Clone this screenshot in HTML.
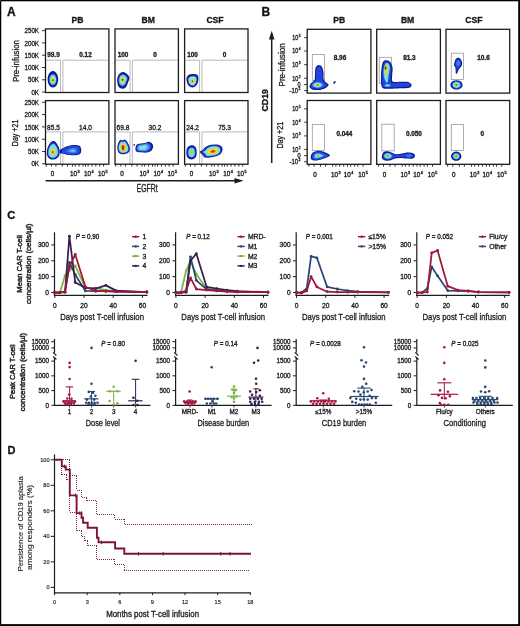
<!DOCTYPE html>
<html><head><meta charset="utf-8"><title>Figure</title>
<style>
html,body{margin:0;padding:0;background:#fff;}
body{width:520px;height:626px;overflow:hidden;}
svg{display:block;will-change:transform;}
svg text{font-family:"Liberation Sans", sans-serif;stroke:#222;stroke-width:0.32px;}
</style></head>
<body>
<svg width="520" height="626" viewBox="0 0 520 626" fill="#222">
<defs><filter id="bl" x="-20%" y="-20%" width="140%" height="140%"><feGaussianBlur stdDeviation="0.3"/></filter>
</defs>
<g>
<rect x="0" y="0" width="520" height="626" fill="#fff"/>
<text x="7.00" y="15.90" font-size="12" font-weight="bold" fill="#111">A</text>
<text x="261.60" y="15.90" font-size="12" font-weight="bold" fill="#111">B</text>
<text x="7.30" y="219.10" font-size="11.2" font-weight="bold" fill="#111">C</text>
<text x="7.50" y="454.30" font-size="11" font-weight="bold" fill="#111">D</text>
<text x="77.40" y="23.00" font-size="8.6" text-anchor="middle" font-weight="bold" fill="#111">PB</text>
<text x="148.20" y="23.00" font-size="8.6" text-anchor="middle" font-weight="bold" fill="#111">BM</text>
<text x="215.00" y="23.00" font-size="8.6" text-anchor="middle" font-weight="bold" fill="#111">CSF</text>
<text x="19.00" y="61.00" font-size="9.3" text-anchor="middle" textLength="42.00" lengthAdjust="spacingAndGlyphs" transform="rotate(-90 19.00 61.00)">Pre-infusion</text>
<text x="17.90" y="132.90" font-size="9.3" text-anchor="middle" textLength="26.50" lengthAdjust="spacingAndGlyphs" transform="rotate(-90 17.90 132.90)">Day +21</text>
<line x1="42.00" y1="92.10" x2="45.50" y2="92.10" stroke="#1c1c1c" stroke-width="0.9"/>
<text x="39.00" y="94.70" font-size="7.0" text-anchor="end" textLength="7.58" lengthAdjust="spacingAndGlyphs">0K</text>
<line x1="42.00" y1="79.80" x2="45.50" y2="79.80" stroke="#1c1c1c" stroke-width="0.9"/>
<text x="39.00" y="82.40" font-size="7.0" text-anchor="end" textLength="11.03" lengthAdjust="spacingAndGlyphs">50K</text>
<line x1="42.00" y1="67.50" x2="45.50" y2="67.50" stroke="#1c1c1c" stroke-width="0.9"/>
<text x="39.00" y="70.10" font-size="7.0" text-anchor="end" textLength="14.48" lengthAdjust="spacingAndGlyphs">100K</text>
<line x1="42.00" y1="55.20" x2="45.50" y2="55.20" stroke="#1c1c1c" stroke-width="0.9"/>
<text x="39.00" y="57.80" font-size="7.0" text-anchor="end" textLength="14.48" lengthAdjust="spacingAndGlyphs">150K</text>
<line x1="42.00" y1="42.90" x2="45.50" y2="42.90" stroke="#1c1c1c" stroke-width="0.9"/>
<text x="39.00" y="45.50" font-size="7.0" text-anchor="end" textLength="14.48" lengthAdjust="spacingAndGlyphs">200K</text>
<line x1="42.00" y1="30.60" x2="45.50" y2="30.60" stroke="#1c1c1c" stroke-width="0.9"/>
<text x="39.00" y="33.20" font-size="7.0" text-anchor="end" textLength="14.48" lengthAdjust="spacingAndGlyphs">250K</text>
<line x1="42.00" y1="163.80" x2="45.50" y2="163.80" stroke="#1c1c1c" stroke-width="0.9"/>
<text x="39.00" y="166.40" font-size="7.0" text-anchor="end" textLength="7.58" lengthAdjust="spacingAndGlyphs">0K</text>
<line x1="42.00" y1="151.50" x2="45.50" y2="151.50" stroke="#1c1c1c" stroke-width="0.9"/>
<text x="39.00" y="154.10" font-size="7.0" text-anchor="end" textLength="11.03" lengthAdjust="spacingAndGlyphs">50K</text>
<line x1="42.00" y1="139.20" x2="45.50" y2="139.20" stroke="#1c1c1c" stroke-width="0.9"/>
<text x="39.00" y="141.80" font-size="7.0" text-anchor="end" textLength="14.48" lengthAdjust="spacingAndGlyphs">100K</text>
<line x1="42.00" y1="126.90" x2="45.50" y2="126.90" stroke="#1c1c1c" stroke-width="0.9"/>
<text x="39.00" y="129.50" font-size="7.0" text-anchor="end" textLength="14.48" lengthAdjust="spacingAndGlyphs">150K</text>
<line x1="42.00" y1="114.60" x2="45.50" y2="114.60" stroke="#1c1c1c" stroke-width="0.9"/>
<text x="39.00" y="117.20" font-size="7.0" text-anchor="end" textLength="14.48" lengthAdjust="spacingAndGlyphs">200K</text>
<line x1="42.00" y1="102.30" x2="45.50" y2="102.30" stroke="#1c1c1c" stroke-width="0.9"/>
<text x="39.00" y="104.90" font-size="7.0" text-anchor="end" textLength="14.48" lengthAdjust="spacingAndGlyphs">250K</text>
<path d="M46.10,60.20 H60.50 V92.20" stroke="#a8a8a8" stroke-width="0.8" fill="none"/>
<path d="M62.90,92.20 V60.20 H108.30" stroke="#a8a8a8" stroke-width="0.8" fill="none"/>
<text x="53.50" y="56.90" font-size="6.4" text-anchor="middle" font-weight="bold">99.9</text>
<text x="85.50" y="56.90" font-size="6.4" text-anchor="middle" font-weight="bold">0.12</text>
<path d="M115.60,60.20 H130.00 V92.20" stroke="#a8a8a8" stroke-width="0.8" fill="none"/>
<path d="M132.40,92.20 V60.20 H177.80" stroke="#a8a8a8" stroke-width="0.8" fill="none"/>
<text x="123.00" y="56.90" font-size="6.4" text-anchor="middle" font-weight="bold">100</text>
<text x="155.00" y="56.90" font-size="6.4" text-anchor="middle" font-weight="bold">0</text>
<path d="M185.20,60.20 H199.60 V92.20" stroke="#a8a8a8" stroke-width="0.8" fill="none"/>
<path d="M202.00,92.20 V60.20 H247.40" stroke="#a8a8a8" stroke-width="0.8" fill="none"/>
<text x="192.60" y="56.90" font-size="6.4" text-anchor="middle" font-weight="bold">100</text>
<text x="224.60" y="56.90" font-size="6.4" text-anchor="middle" font-weight="bold">0</text>
<path d="M46.10,131.90 H60.50 V163.90" stroke="#a8a8a8" stroke-width="0.8" fill="none"/>
<path d="M62.90,163.90 V131.90 H108.30" stroke="#a8a8a8" stroke-width="0.8" fill="none"/>
<text x="53.50" y="129.80" font-size="6.9" text-anchor="middle" textLength="12.84" lengthAdjust="spacingAndGlyphs">85.5</text>
<text x="85.50" y="129.80" font-size="6.9" text-anchor="middle" textLength="12.84" lengthAdjust="spacingAndGlyphs">14.0</text>
<path d="M115.60,131.90 H130.00 V163.90" stroke="#a8a8a8" stroke-width="0.8" fill="none"/>
<path d="M132.40,163.90 V131.90 H177.80" stroke="#a8a8a8" stroke-width="0.8" fill="none"/>
<text x="123.00" y="129.80" font-size="6.9" text-anchor="middle" textLength="12.84" lengthAdjust="spacingAndGlyphs">69.8</text>
<text x="155.00" y="129.80" font-size="6.9" text-anchor="middle" textLength="12.84" lengthAdjust="spacingAndGlyphs">30.2</text>
<path d="M185.20,131.90 H199.60 V163.90" stroke="#a8a8a8" stroke-width="0.8" fill="none"/>
<path d="M202.00,163.90 V131.90 H247.40" stroke="#a8a8a8" stroke-width="0.8" fill="none"/>
<text x="192.60" y="129.80" font-size="6.9" text-anchor="middle" textLength="12.84" lengthAdjust="spacingAndGlyphs">24.2</text>
<text x="224.60" y="129.80" font-size="6.9" text-anchor="middle" textLength="12.84" lengthAdjust="spacingAndGlyphs">75.3</text>
<line x1="46.20" y1="164.20" x2="46.20" y2="166.60" stroke="#1c1c1c" stroke-width="0.9"/>
<line x1="51.40" y1="164.20" x2="51.40" y2="166.60" stroke="#1c1c1c" stroke-width="0.9"/>
<line x1="55.90" y1="164.20" x2="55.90" y2="166.60" stroke="#1c1c1c" stroke-width="0.9"/>
<line x1="62.30" y1="164.20" x2="62.30" y2="166.60" stroke="#1c1c1c" stroke-width="0.9"/>
<line x1="67.50" y1="164.20" x2="67.50" y2="166.60" stroke="#1c1c1c" stroke-width="0.9"/>
<line x1="72.60" y1="164.20" x2="72.60" y2="166.60" stroke="#1c1c1c" stroke-width="0.9"/>
<line x1="75.20" y1="164.20" x2="75.20" y2="166.60" stroke="#1c1c1c" stroke-width="0.9"/>
<line x1="79.10" y1="164.20" x2="79.10" y2="166.60" stroke="#1c1c1c" stroke-width="0.9"/>
<line x1="83.00" y1="164.20" x2="83.00" y2="166.60" stroke="#1c1c1c" stroke-width="0.9"/>
<line x1="85.50" y1="164.20" x2="85.50" y2="166.60" stroke="#1c1c1c" stroke-width="0.9"/>
<line x1="88.10" y1="164.20" x2="88.10" y2="166.60" stroke="#1c1c1c" stroke-width="0.9"/>
<line x1="92.00" y1="164.20" x2="92.00" y2="166.60" stroke="#1c1c1c" stroke-width="0.9"/>
<line x1="95.80" y1="164.20" x2="95.80" y2="166.60" stroke="#1c1c1c" stroke-width="0.9"/>
<line x1="99.70" y1="164.20" x2="99.70" y2="166.60" stroke="#1c1c1c" stroke-width="0.9"/>
<line x1="103.60" y1="164.20" x2="103.60" y2="166.60" stroke="#1c1c1c" stroke-width="0.9"/>
<text x="52.50" y="176.30" font-size="6.3" text-anchor="middle">0</text>
<text x="74.80" y="176.30" font-size="6.3" text-anchor="middle">10<tspan font-size="3.78" dx="0.50" dy="-2.83">3</tspan></text>
<text x="88.90" y="176.30" font-size="6.3" text-anchor="middle">10<tspan font-size="3.78" dx="0.50" dy="-2.83">4</tspan></text>
<text x="102.70" y="176.30" font-size="6.3" text-anchor="middle">10<tspan font-size="3.78" dx="0.50" dy="-2.83">5</tspan></text>
<line x1="115.70" y1="164.20" x2="115.70" y2="166.60" stroke="#1c1c1c" stroke-width="0.9"/>
<line x1="120.90" y1="164.20" x2="120.90" y2="166.60" stroke="#1c1c1c" stroke-width="0.9"/>
<line x1="125.40" y1="164.20" x2="125.40" y2="166.60" stroke="#1c1c1c" stroke-width="0.9"/>
<line x1="131.80" y1="164.20" x2="131.80" y2="166.60" stroke="#1c1c1c" stroke-width="0.9"/>
<line x1="137.00" y1="164.20" x2="137.00" y2="166.60" stroke="#1c1c1c" stroke-width="0.9"/>
<line x1="142.10" y1="164.20" x2="142.10" y2="166.60" stroke="#1c1c1c" stroke-width="0.9"/>
<line x1="144.70" y1="164.20" x2="144.70" y2="166.60" stroke="#1c1c1c" stroke-width="0.9"/>
<line x1="148.60" y1="164.20" x2="148.60" y2="166.60" stroke="#1c1c1c" stroke-width="0.9"/>
<line x1="152.50" y1="164.20" x2="152.50" y2="166.60" stroke="#1c1c1c" stroke-width="0.9"/>
<line x1="155.00" y1="164.20" x2="155.00" y2="166.60" stroke="#1c1c1c" stroke-width="0.9"/>
<line x1="157.60" y1="164.20" x2="157.60" y2="166.60" stroke="#1c1c1c" stroke-width="0.9"/>
<line x1="161.50" y1="164.20" x2="161.50" y2="166.60" stroke="#1c1c1c" stroke-width="0.9"/>
<line x1="165.30" y1="164.20" x2="165.30" y2="166.60" stroke="#1c1c1c" stroke-width="0.9"/>
<line x1="169.20" y1="164.20" x2="169.20" y2="166.60" stroke="#1c1c1c" stroke-width="0.9"/>
<line x1="173.10" y1="164.20" x2="173.10" y2="166.60" stroke="#1c1c1c" stroke-width="0.9"/>
<text x="122.00" y="176.30" font-size="6.3" text-anchor="middle">0</text>
<text x="144.30" y="176.30" font-size="6.3" text-anchor="middle">10<tspan font-size="3.78" dx="0.50" dy="-2.83">3</tspan></text>
<text x="158.40" y="176.30" font-size="6.3" text-anchor="middle">10<tspan font-size="3.78" dx="0.50" dy="-2.83">4</tspan></text>
<text x="172.20" y="176.30" font-size="6.3" text-anchor="middle">10<tspan font-size="3.78" dx="0.50" dy="-2.83">5</tspan></text>
<line x1="185.30" y1="164.20" x2="185.30" y2="166.60" stroke="#1c1c1c" stroke-width="0.9"/>
<line x1="190.50" y1="164.20" x2="190.50" y2="166.60" stroke="#1c1c1c" stroke-width="0.9"/>
<line x1="195.00" y1="164.20" x2="195.00" y2="166.60" stroke="#1c1c1c" stroke-width="0.9"/>
<line x1="201.40" y1="164.20" x2="201.40" y2="166.60" stroke="#1c1c1c" stroke-width="0.9"/>
<line x1="206.60" y1="164.20" x2="206.60" y2="166.60" stroke="#1c1c1c" stroke-width="0.9"/>
<line x1="211.70" y1="164.20" x2="211.70" y2="166.60" stroke="#1c1c1c" stroke-width="0.9"/>
<line x1="214.30" y1="164.20" x2="214.30" y2="166.60" stroke="#1c1c1c" stroke-width="0.9"/>
<line x1="218.20" y1="164.20" x2="218.20" y2="166.60" stroke="#1c1c1c" stroke-width="0.9"/>
<line x1="222.10" y1="164.20" x2="222.10" y2="166.60" stroke="#1c1c1c" stroke-width="0.9"/>
<line x1="224.60" y1="164.20" x2="224.60" y2="166.60" stroke="#1c1c1c" stroke-width="0.9"/>
<line x1="227.20" y1="164.20" x2="227.20" y2="166.60" stroke="#1c1c1c" stroke-width="0.9"/>
<line x1="231.10" y1="164.20" x2="231.10" y2="166.60" stroke="#1c1c1c" stroke-width="0.9"/>
<line x1="234.90" y1="164.20" x2="234.90" y2="166.60" stroke="#1c1c1c" stroke-width="0.9"/>
<line x1="238.80" y1="164.20" x2="238.80" y2="166.60" stroke="#1c1c1c" stroke-width="0.9"/>
<line x1="242.70" y1="164.20" x2="242.70" y2="166.60" stroke="#1c1c1c" stroke-width="0.9"/>
<text x="191.60" y="176.30" font-size="6.3" text-anchor="middle">0</text>
<text x="213.90" y="176.30" font-size="6.3" text-anchor="middle">10<tspan font-size="3.78" dx="0.50" dy="-2.83">3</tspan></text>
<text x="228.00" y="176.30" font-size="6.3" text-anchor="middle">10<tspan font-size="3.78" dx="0.50" dy="-2.83">4</tspan></text>
<text x="241.80" y="176.30" font-size="6.3" text-anchor="middle">10<tspan font-size="3.78" dx="0.50" dy="-2.83">5</tspan></text>
<g filter="url(#bl)">
<path d="M58.20,79.30 C58.20,80.67 57.93,82.22 57.49,83.40 C57.05,84.58 56.31,85.72 55.55,86.40 C54.79,87.08 53.78,87.50 52.90,87.50 C52.02,87.50 51.01,87.08 50.25,86.40 C49.49,85.72 48.75,84.58 48.31,83.40 C47.87,82.22 47.60,80.67 47.60,79.30 C47.60,77.93 47.87,76.38 48.31,75.20 C48.75,74.02 49.49,72.88 50.25,72.20 C51.01,71.52 52.02,71.10 52.90,71.10 C53.78,71.10 54.79,71.52 55.55,72.20 C56.31,72.88 57.05,74.02 57.49,75.20 C57.93,76.38 58.20,77.93 58.20,79.30 Z" fill="#0e1b8c"/>
<path d="M58.20,79.30 C58.20,80.67 57.93,82.22 57.49,83.40 C57.05,84.58 56.31,85.72 55.55,86.40 C54.79,87.08 53.78,87.50 52.90,87.50 C52.02,87.50 51.01,87.08 50.25,86.40 C49.49,85.72 48.75,84.58 48.31,83.40 C47.87,82.22 47.60,80.67 47.60,79.30 C47.60,77.93 47.87,76.38 48.31,75.20 C48.75,74.02 49.49,72.88 50.25,72.20 C51.01,71.52 52.02,71.10 52.90,71.10 C53.78,71.10 54.79,71.52 55.55,72.20 C56.31,72.88 57.05,74.02 57.49,75.20 C57.93,76.38 58.20,77.93 58.20,79.30 Z" fill="#2145df" transform="translate(52.90 80.40) scale(0.75) translate(-52.90 -80.40)"/>
<path d="M58.20,79.30 C58.20,80.67 57.93,82.22 57.49,83.40 C57.05,84.58 56.31,85.72 55.55,86.40 C54.79,87.08 53.78,87.50 52.90,87.50 C52.02,87.50 51.01,87.08 50.25,86.40 C49.49,85.72 48.75,84.58 48.31,83.40 C47.87,82.22 47.60,80.67 47.60,79.30 C47.60,77.93 47.87,76.38 48.31,75.20 C48.75,74.02 49.49,72.88 50.25,72.20 C51.01,71.52 52.02,71.10 52.90,71.10 C53.78,71.10 54.79,71.52 55.55,72.20 C56.31,72.88 57.05,74.02 57.49,75.20 C57.93,76.38 58.20,77.93 58.20,79.30 Z" fill="#74d8f0" transform="translate(52.90 80.40) scale(0.62) translate(-52.90 -80.40)"/>
<path d="M58.20,79.30 C58.20,80.67 57.93,82.22 57.49,83.40 C57.05,84.58 56.31,85.72 55.55,86.40 C54.79,87.08 53.78,87.50 52.90,87.50 C52.02,87.50 51.01,87.08 50.25,86.40 C49.49,85.72 48.75,84.58 48.31,83.40 C47.87,82.22 47.60,80.67 47.60,79.30 C47.60,77.93 47.87,76.38 48.31,75.20 C48.75,74.02 49.49,72.88 50.25,72.20 C51.01,71.52 52.02,71.10 52.90,71.10 C53.78,71.10 54.79,71.52 55.55,72.20 C56.31,72.88 57.05,74.02 57.49,75.20 C57.93,76.38 58.20,77.93 58.20,79.30 Z" fill="#a6e276" transform="translate(52.90 80.40) scale(0.45) translate(-52.90 -80.40)"/>
<path d="M58.20,79.30 C58.20,80.67 57.93,82.22 57.49,83.40 C57.05,84.58 56.31,85.72 55.55,86.40 C54.79,87.08 53.78,87.50 52.90,87.50 C52.02,87.50 51.01,87.08 50.25,86.40 C49.49,85.72 48.75,84.58 48.31,83.40 C47.87,82.22 47.60,80.67 47.60,79.30 C47.60,77.93 47.87,76.38 48.31,75.20 C48.75,74.02 49.49,72.88 50.25,72.20 C51.01,71.52 52.02,71.10 52.90,71.10 C53.78,71.10 54.79,71.52 55.55,72.20 C56.31,72.88 57.05,74.02 57.49,75.20 C57.93,76.38 58.20,77.93 58.20,79.30 Z" fill="#e8e23e" transform="translate(52.90 80.40) scale(0.28) translate(-52.90 -80.40)"/>
<path d="M58.20,79.30 C58.20,80.67 57.93,82.22 57.49,83.40 C57.05,84.58 56.31,85.72 55.55,86.40 C54.79,87.08 53.78,87.50 52.90,87.50 C52.02,87.50 51.01,87.08 50.25,86.40 C49.49,85.72 48.75,84.58 48.31,83.40 C47.87,82.22 47.60,80.67 47.60,79.30 C47.60,77.93 47.87,76.38 48.31,75.20 C48.75,74.02 49.49,72.88 50.25,72.20 C51.01,71.52 52.02,71.10 52.90,71.10 C53.78,71.10 54.79,71.52 55.55,72.20 C56.31,72.88 57.05,74.02 57.49,75.20 C57.93,76.38 58.20,77.93 58.20,79.30 Z" fill="#6e3c10" transform="translate(52.90 80.40) scale(0.14) translate(-52.90 -80.40)"/>
</g>
<g filter="url(#bl)">
<path d="M117.20,80.00 C117.20,78.08 117.70,76.30 118.50,75.00 C119.30,73.70 120.75,72.48 122.00,72.20 C123.25,71.92 124.77,72.42 126.00,73.30 C127.23,74.18 129.07,75.97 129.40,77.50 C129.73,79.03 128.57,80.92 128.00,82.50 C127.43,84.08 126.92,85.95 126.00,87.00 C125.08,88.05 123.75,88.88 122.50,88.80 C121.25,88.72 119.38,87.97 118.50,86.50 C117.62,85.03 117.20,81.92 117.20,80.00 Z" fill="#0e1b8c"/>
<path d="M117.20,80.00 C117.20,78.08 117.70,76.30 118.50,75.00 C119.30,73.70 120.75,72.48 122.00,72.20 C123.25,71.92 124.77,72.42 126.00,73.30 C127.23,74.18 129.07,75.97 129.40,77.50 C129.73,79.03 128.57,80.92 128.00,82.50 C127.43,84.08 126.92,85.95 126.00,87.00 C125.08,88.05 123.75,88.88 122.50,88.80 C121.25,88.72 119.38,87.97 118.50,86.50 C117.62,85.03 117.20,81.92 117.20,80.00 Z" fill="#2145df" transform="translate(122.50 79.70) scale(0.78) translate(-122.50 -79.70)"/>
<path d="M117.20,80.00 C117.20,78.08 117.70,76.30 118.50,75.00 C119.30,73.70 120.75,72.48 122.00,72.20 C123.25,71.92 124.77,72.42 126.00,73.30 C127.23,74.18 129.07,75.97 129.40,77.50 C129.73,79.03 128.57,80.92 128.00,82.50 C127.43,84.08 126.92,85.95 126.00,87.00 C125.08,88.05 123.75,88.88 122.50,88.80 C121.25,88.72 119.38,87.97 118.50,86.50 C117.62,85.03 117.20,81.92 117.20,80.00 Z" fill="#74d8f0" transform="translate(122.50 79.70) scale(0.64) translate(-122.50 -79.70)"/>
<path d="M117.20,80.00 C117.20,78.08 117.70,76.30 118.50,75.00 C119.30,73.70 120.75,72.48 122.00,72.20 C123.25,71.92 124.77,72.42 126.00,73.30 C127.23,74.18 129.07,75.97 129.40,77.50 C129.73,79.03 128.57,80.92 128.00,82.50 C127.43,84.08 126.92,85.95 126.00,87.00 C125.08,88.05 123.75,88.88 122.50,88.80 C121.25,88.72 119.38,87.97 118.50,86.50 C117.62,85.03 117.20,81.92 117.20,80.00 Z" fill="#a6e276" transform="translate(122.50 79.70) scale(0.47) translate(-122.50 -79.70)"/>
<path d="M117.20,80.00 C117.20,78.08 117.70,76.30 118.50,75.00 C119.30,73.70 120.75,72.48 122.00,72.20 C123.25,71.92 124.77,72.42 126.00,73.30 C127.23,74.18 129.07,75.97 129.40,77.50 C129.73,79.03 128.57,80.92 128.00,82.50 C127.43,84.08 126.92,85.95 126.00,87.00 C125.08,88.05 123.75,88.88 122.50,88.80 C121.25,88.72 119.38,87.97 118.50,86.50 C117.62,85.03 117.20,81.92 117.20,80.00 Z" fill="#e8e23e" transform="translate(122.50 79.70) scale(0.3) translate(-122.50 -79.70)"/>
<path d="M117.20,80.00 C117.20,78.08 117.70,76.30 118.50,75.00 C119.30,73.70 120.75,72.48 122.00,72.20 C123.25,71.92 124.77,72.42 126.00,73.30 C127.23,74.18 129.07,75.97 129.40,77.50 C129.73,79.03 128.57,80.92 128.00,82.50 C127.43,84.08 126.92,85.95 126.00,87.00 C125.08,88.05 123.75,88.88 122.50,88.80 C121.25,88.72 119.38,87.97 118.50,86.50 C117.62,85.03 117.20,81.92 117.20,80.00 Z" fill="#6e3c10" transform="translate(122.50 79.70) scale(0.15) translate(-122.50 -79.70)"/>
</g>
<g filter="url(#bl)">
<path d="M186.40,79.00 C186.40,77.25 187.40,75.85 188.50,75.00 C189.60,74.15 191.50,73.90 193.00,73.90 C194.50,73.90 196.60,74.07 197.50,75.00 C198.40,75.93 198.48,77.92 198.40,79.50 C198.32,81.08 197.90,83.18 197.00,84.50 C196.10,85.82 194.42,87.23 193.00,87.40 C191.58,87.57 189.60,86.90 188.50,85.50 C187.40,84.10 186.40,80.75 186.40,79.00 Z" fill="#0e1b8c"/>
<path d="M186.40,79.00 C186.40,77.25 187.40,75.85 188.50,75.00 C189.60,74.15 191.50,73.90 193.00,73.90 C194.50,73.90 196.60,74.07 197.50,75.00 C198.40,75.93 198.48,77.92 198.40,79.50 C198.32,81.08 197.90,83.18 197.00,84.50 C196.10,85.82 194.42,87.23 193.00,87.40 C191.58,87.57 189.60,86.90 188.50,85.50 C187.40,84.10 186.40,80.75 186.40,79.00 Z" fill="#2145df" transform="translate(192.40 81.30) scale(0.8) translate(-192.40 -81.30)"/>
<path d="M186.40,79.00 C186.40,77.25 187.40,75.85 188.50,75.00 C189.60,74.15 191.50,73.90 193.00,73.90 C194.50,73.90 196.60,74.07 197.50,75.00 C198.40,75.93 198.48,77.92 198.40,79.50 C198.32,81.08 197.90,83.18 197.00,84.50 C196.10,85.82 194.42,87.23 193.00,87.40 C191.58,87.57 189.60,86.90 188.50,85.50 C187.40,84.10 186.40,80.75 186.40,79.00 Z" fill="#9fdcf6" transform="translate(192.40 81.30) scale(0.66) translate(-192.40 -81.30)"/>
<path d="M186.40,79.00 C186.40,77.25 187.40,75.85 188.50,75.00 C189.60,74.15 191.50,73.90 193.00,73.90 C194.50,73.90 196.60,74.07 197.50,75.00 C198.40,75.93 198.48,77.92 198.40,79.50 C198.32,81.08 197.90,83.18 197.00,84.50 C196.10,85.82 194.42,87.23 193.00,87.40 C191.58,87.57 189.60,86.90 188.50,85.50 C187.40,84.10 186.40,80.75 186.40,79.00 Z" fill="#a6e276" transform="translate(192.40 81.30) scale(0.45) translate(-192.40 -81.30)"/>
<path d="M186.40,79.00 C186.40,77.25 187.40,75.85 188.50,75.00 C189.60,74.15 191.50,73.90 193.00,73.90 C194.50,73.90 196.60,74.07 197.50,75.00 C198.40,75.93 198.48,77.92 198.40,79.50 C198.32,81.08 197.90,83.18 197.00,84.50 C196.10,85.82 194.42,87.23 193.00,87.40 C191.58,87.57 189.60,86.90 188.50,85.50 C187.40,84.10 186.40,80.75 186.40,79.00 Z" fill="#cfe640" transform="translate(192.40 81.30) scale(0.28) translate(-192.40 -81.30)"/>
<path d="M186.40,79.00 C186.40,77.25 187.40,75.85 188.50,75.00 C189.60,74.15 191.50,73.90 193.00,73.90 C194.50,73.90 196.60,74.07 197.50,75.00 C198.40,75.93 198.48,77.92 198.40,79.50 C198.32,81.08 197.90,83.18 197.00,84.50 C196.10,85.82 194.42,87.23 193.00,87.40 C191.58,87.57 189.60,86.90 188.50,85.50 C187.40,84.10 186.40,80.75 186.40,79.00 Z" fill="#6e3c10" transform="translate(192.40 81.30) scale(0.12) translate(-192.40 -81.30)"/>
</g>
<g filter="url(#bl)">
<path d="M60.20,150.00 C60.67,149.18 61.70,148.97 63.00,148.30 C64.30,147.63 66.17,146.57 68.00,146.00 C69.83,145.43 72.08,144.93 74.00,144.90 C75.92,144.87 78.30,144.98 79.50,145.80 C80.70,146.62 81.12,148.43 81.20,149.80 C81.28,151.17 81.20,153.08 80.00,154.00 C78.80,154.92 76.17,155.17 74.00,155.30 C71.83,155.43 68.83,155.08 67.00,154.80 C65.17,154.52 64.13,153.87 63.00,153.60 C61.87,153.33 60.67,153.80 60.20,153.20 C59.73,152.60 59.73,150.82 60.20,150.00 Z" fill="#0e1b8c"/>
<path d="M60.20,150.00 C60.67,149.18 61.70,148.97 63.00,148.30 C64.30,147.63 66.17,146.57 68.00,146.00 C69.83,145.43 72.08,144.93 74.00,144.90 C75.92,144.87 78.30,144.98 79.50,145.80 C80.70,146.62 81.12,148.43 81.20,149.80 C81.28,151.17 81.20,153.08 80.00,154.00 C78.80,154.92 76.17,155.17 74.00,155.30 C71.83,155.43 68.83,155.08 67.00,154.80 C65.17,154.52 64.13,153.87 63.00,153.60 C61.87,153.33 60.67,153.80 60.20,153.20 C59.73,152.60 59.73,150.82 60.20,150.00 Z" fill="#2145df" transform="translate(73.00 151.00) scale(0.85) translate(-73.00 -151.00)"/>
<path d="M60.20,150.00 C60.67,149.18 61.70,148.97 63.00,148.30 C64.30,147.63 66.17,146.57 68.00,146.00 C69.83,145.43 72.08,144.93 74.00,144.90 C75.92,144.87 78.30,144.98 79.50,145.80 C80.70,146.62 81.12,148.43 81.20,149.80 C81.28,151.17 81.20,153.08 80.00,154.00 C78.80,154.92 76.17,155.17 74.00,155.30 C71.83,155.43 68.83,155.08 67.00,154.80 C65.17,154.52 64.13,153.87 63.00,153.60 C61.87,153.33 60.67,153.80 60.20,153.20 C59.73,152.60 59.73,150.82 60.20,150.00 Z" fill="#2d6ae8" transform="translate(73.00 151.00) scale(0.55) translate(-73.00 -151.00)"/>
<path d="M60.20,150.00 C60.67,149.18 61.70,148.97 63.00,148.30 C64.30,147.63 66.17,146.57 68.00,146.00 C69.83,145.43 72.08,144.93 74.00,144.90 C75.92,144.87 78.30,144.98 79.50,145.80 C80.70,146.62 81.12,148.43 81.20,149.80 C81.28,151.17 81.20,153.08 80.00,154.00 C78.80,154.92 76.17,155.17 74.00,155.30 C71.83,155.43 68.83,155.08 67.00,154.80 C65.17,154.52 64.13,153.87 63.00,153.60 C61.87,153.33 60.67,153.80 60.20,153.20 C59.73,152.60 59.73,150.82 60.20,150.00 Z" fill="#4f9cf0" transform="translate(73.00 151.00) scale(0.35) translate(-73.00 -151.00)"/>
<path d="M60.20,150.00 C60.67,149.18 61.70,148.97 63.00,148.30 C64.30,147.63 66.17,146.57 68.00,146.00 C69.83,145.43 72.08,144.93 74.00,144.90 C75.92,144.87 78.30,144.98 79.50,145.80 C80.70,146.62 81.12,148.43 81.20,149.80 C81.28,151.17 81.20,153.08 80.00,154.00 C78.80,154.92 76.17,155.17 74.00,155.30 C71.83,155.43 68.83,155.08 67.00,154.80 C65.17,154.52 64.13,153.87 63.00,153.60 C61.87,153.33 60.67,153.80 60.20,153.20 C59.73,152.60 59.73,150.82 60.20,150.00 Z" fill="#7cc8f2" transform="translate(73.00 151.00) scale(0.15) translate(-73.00 -151.00)"/>
</g>
<g filter="url(#bl)">
<path d="M52.40,141.30 C53.25,140.97 54.03,140.98 54.90,141.60 C55.77,142.22 56.82,143.60 57.60,145.00 C58.38,146.40 59.37,148.17 59.60,150.00 C59.83,151.83 59.77,154.47 59.00,156.00 C58.23,157.53 56.50,158.70 55.00,159.20 C53.50,159.70 51.33,159.70 50.00,159.00 C48.67,158.30 47.43,156.75 47.00,155.00 C46.57,153.25 46.93,150.40 47.40,148.50 C47.87,146.60 48.97,144.80 49.80,143.60 C50.63,142.40 51.55,141.63 52.40,141.30 Z" fill="#0e1b8c"/>
<path d="M52.40,141.30 C53.25,140.97 54.03,140.98 54.90,141.60 C55.77,142.22 56.82,143.60 57.60,145.00 C58.38,146.40 59.37,148.17 59.60,150.00 C59.83,151.83 59.77,154.47 59.00,156.00 C58.23,157.53 56.50,158.70 55.00,159.20 C53.50,159.70 51.33,159.70 50.00,159.00 C48.67,158.30 47.43,156.75 47.00,155.00 C46.57,153.25 46.93,150.40 47.40,148.50 C47.87,146.60 48.97,144.80 49.80,143.60 C50.63,142.40 51.55,141.63 52.40,141.30 Z" fill="#2145df" transform="translate(52.70 152.20) scale(0.86) translate(-52.70 -152.20)"/>
<path d="M52.40,141.30 C53.25,140.97 54.03,140.98 54.90,141.60 C55.77,142.22 56.82,143.60 57.60,145.00 C58.38,146.40 59.37,148.17 59.60,150.00 C59.83,151.83 59.77,154.47 59.00,156.00 C58.23,157.53 56.50,158.70 55.00,159.20 C53.50,159.70 51.33,159.70 50.00,159.00 C48.67,158.30 47.43,156.75 47.00,155.00 C46.57,153.25 46.93,150.40 47.40,148.50 C47.87,146.60 48.97,144.80 49.80,143.60 C50.63,142.40 51.55,141.63 52.40,141.30 Z" fill="#74d8f0" transform="translate(52.70 152.20) scale(0.74) translate(-52.70 -152.20)"/>
<path d="M52.40,141.30 C53.25,140.97 54.03,140.98 54.90,141.60 C55.77,142.22 56.82,143.60 57.60,145.00 C58.38,146.40 59.37,148.17 59.60,150.00 C59.83,151.83 59.77,154.47 59.00,156.00 C58.23,157.53 56.50,158.70 55.00,159.20 C53.50,159.70 51.33,159.70 50.00,159.00 C48.67,158.30 47.43,156.75 47.00,155.00 C46.57,153.25 46.93,150.40 47.40,148.50 C47.87,146.60 48.97,144.80 49.80,143.60 C50.63,142.40 51.55,141.63 52.40,141.30 Z" fill="#a6e276" transform="translate(52.70 152.20) scale(0.5) translate(-52.70 -152.20)"/>
<path d="M52.40,141.30 C53.25,140.97 54.03,140.98 54.90,141.60 C55.77,142.22 56.82,143.60 57.60,145.00 C58.38,146.40 59.37,148.17 59.60,150.00 C59.83,151.83 59.77,154.47 59.00,156.00 C58.23,157.53 56.50,158.70 55.00,159.20 C53.50,159.70 51.33,159.70 50.00,159.00 C48.67,158.30 47.43,156.75 47.00,155.00 C46.57,153.25 46.93,150.40 47.40,148.50 C47.87,146.60 48.97,144.80 49.80,143.60 C50.63,142.40 51.55,141.63 52.40,141.30 Z" fill="#e8e23e" transform="translate(52.70 152.20) scale(0.3) translate(-52.70 -152.20)"/>
<path d="M52.40,141.30 C53.25,140.97 54.03,140.98 54.90,141.60 C55.77,142.22 56.82,143.60 57.60,145.00 C58.38,146.40 59.37,148.17 59.60,150.00 C59.83,151.83 59.77,154.47 59.00,156.00 C58.23,157.53 56.50,158.70 55.00,159.20 C53.50,159.70 51.33,159.70 50.00,159.00 C48.67,158.30 47.43,156.75 47.00,155.00 C46.57,153.25 46.93,150.40 47.40,148.50 C47.87,146.60 48.97,144.80 49.80,143.60 C50.63,142.40 51.55,141.63 52.40,141.30 Z" fill="#f0a222" transform="translate(52.70 152.20) scale(0.18) translate(-52.70 -152.20)"/>
<path d="M52.40,141.30 C53.25,140.97 54.03,140.98 54.90,141.60 C55.77,142.22 56.82,143.60 57.60,145.00 C58.38,146.40 59.37,148.17 59.60,150.00 C59.83,151.83 59.77,154.47 59.00,156.00 C58.23,157.53 56.50,158.70 55.00,159.20 C53.50,159.70 51.33,159.70 50.00,159.00 C48.67,158.30 47.43,156.75 47.00,155.00 C46.57,153.25 46.93,150.40 47.40,148.50 C47.87,146.60 48.97,144.80 49.80,143.60 C50.63,142.40 51.55,141.63 52.40,141.30 Z" fill="#6e3c10" transform="translate(52.70 152.20) scale(0.1) translate(-52.70 -152.20)"/>
</g>
<g filter="url(#bl)">
<path d="M117.30,148.00 C117.18,146.33 117.77,144.37 118.30,143.00 C118.83,141.63 119.80,140.20 120.50,139.80 C121.20,139.40 121.83,140.67 122.50,140.60 C123.17,140.53 123.75,139.25 124.50,139.40 C125.25,139.55 126.15,140.23 127.00,141.50 C127.85,142.77 129.27,145.25 129.60,147.00 C129.93,148.75 129.93,150.80 129.00,152.00 C128.07,153.20 125.67,154.03 124.00,154.20 C122.33,154.37 120.12,154.03 119.00,153.00 C117.88,151.97 117.42,149.67 117.30,148.00 Z" fill="#0e1b8c"/>
<path d="M117.30,148.00 C117.18,146.33 117.77,144.37 118.30,143.00 C118.83,141.63 119.80,140.20 120.50,139.80 C121.20,139.40 121.83,140.67 122.50,140.60 C123.17,140.53 123.75,139.25 124.50,139.40 C125.25,139.55 126.15,140.23 127.00,141.50 C127.85,142.77 129.27,145.25 129.60,147.00 C129.93,148.75 129.93,150.80 129.00,152.00 C128.07,153.20 125.67,154.03 124.00,154.20 C122.33,154.37 120.12,154.03 119.00,153.00 C117.88,151.97 117.42,149.67 117.30,148.00 Z" fill="#2145df" transform="translate(123.10 147.80) scale(0.88) translate(-123.10 -147.80)"/>
<path d="M117.30,148.00 C117.18,146.33 117.77,144.37 118.30,143.00 C118.83,141.63 119.80,140.20 120.50,139.80 C121.20,139.40 121.83,140.67 122.50,140.60 C123.17,140.53 123.75,139.25 124.50,139.40 C125.25,139.55 126.15,140.23 127.00,141.50 C127.85,142.77 129.27,145.25 129.60,147.00 C129.93,148.75 129.93,150.80 129.00,152.00 C128.07,153.20 125.67,154.03 124.00,154.20 C122.33,154.37 120.12,154.03 119.00,153.00 C117.88,151.97 117.42,149.67 117.30,148.00 Z" fill="#74d8f0" transform="translate(123.10 147.80) scale(0.76) translate(-123.10 -147.80)"/>
<path d="M117.30,148.00 C117.18,146.33 117.77,144.37 118.30,143.00 C118.83,141.63 119.80,140.20 120.50,139.80 C121.20,139.40 121.83,140.67 122.50,140.60 C123.17,140.53 123.75,139.25 124.50,139.40 C125.25,139.55 126.15,140.23 127.00,141.50 C127.85,142.77 129.27,145.25 129.60,147.00 C129.93,148.75 129.93,150.80 129.00,152.00 C128.07,153.20 125.67,154.03 124.00,154.20 C122.33,154.37 120.12,154.03 119.00,153.00 C117.88,151.97 117.42,149.67 117.30,148.00 Z" fill="#a6e276" transform="translate(123.10 147.80) scale(0.62) translate(-123.10 -147.80)"/>
<path d="M117.30,148.00 C117.18,146.33 117.77,144.37 118.30,143.00 C118.83,141.63 119.80,140.20 120.50,139.80 C121.20,139.40 121.83,140.67 122.50,140.60 C123.17,140.53 123.75,139.25 124.50,139.40 C125.25,139.55 126.15,140.23 127.00,141.50 C127.85,142.77 129.27,145.25 129.60,147.00 C129.93,148.75 129.93,150.80 129.00,152.00 C128.07,153.20 125.67,154.03 124.00,154.20 C122.33,154.37 120.12,154.03 119.00,153.00 C117.88,151.97 117.42,149.67 117.30,148.00 Z" fill="#e8e23e" transform="translate(123.10 147.80) scale(0.48) translate(-123.10 -147.80)"/>
<path d="M117.30,148.00 C117.18,146.33 117.77,144.37 118.30,143.00 C118.83,141.63 119.80,140.20 120.50,139.80 C121.20,139.40 121.83,140.67 122.50,140.60 C123.17,140.53 123.75,139.25 124.50,139.40 C125.25,139.55 126.15,140.23 127.00,141.50 C127.85,142.77 129.27,145.25 129.60,147.00 C129.93,148.75 129.93,150.80 129.00,152.00 C128.07,153.20 125.67,154.03 124.00,154.20 C122.33,154.37 120.12,154.03 119.00,153.00 C117.88,151.97 117.42,149.67 117.30,148.00 Z" fill="#f0a222" transform="translate(123.10 147.80) scale(0.34) translate(-123.10 -147.80)"/>
</g>
<ellipse cx="123.0" cy="147.6" rx="1.3" ry="2.9" fill="#c83418" filter="url(#bl)"/>
<g filter="url(#bl)">
<path d="M135.40,148.50 C135.48,147.33 136.07,145.33 137.00,144.50 C137.93,143.67 139.67,143.75 141.00,143.50 C142.33,143.25 143.75,143.28 145.00,143.00 C146.25,142.72 147.33,141.72 148.50,141.80 C149.67,141.88 151.23,142.63 152.00,143.50 C152.77,144.37 153.27,145.75 153.10,147.00 C152.93,148.25 152.18,150.07 151.00,151.00 C149.82,151.93 147.83,152.38 146.00,152.60 C144.17,152.82 141.58,152.48 140.00,152.30 C138.42,152.12 137.27,152.13 136.50,151.50 C135.73,150.87 135.32,149.67 135.40,148.50 Z" fill="#0e1b8c"/>
<path d="M135.40,148.50 C135.48,147.33 136.07,145.33 137.00,144.50 C137.93,143.67 139.67,143.75 141.00,143.50 C142.33,143.25 143.75,143.28 145.00,143.00 C146.25,142.72 147.33,141.72 148.50,141.80 C149.67,141.88 151.23,142.63 152.00,143.50 C152.77,144.37 153.27,145.75 153.10,147.00 C152.93,148.25 152.18,150.07 151.00,151.00 C149.82,151.93 147.83,152.38 146.00,152.60 C144.17,152.82 141.58,152.48 140.00,152.30 C138.42,152.12 137.27,152.13 136.50,151.50 C135.73,150.87 135.32,149.67 135.40,148.50 Z" fill="#2145df" transform="translate(141.50 147.50) scale(0.85) translate(-141.50 -147.50)"/>
<path d="M135.40,148.50 C135.48,147.33 136.07,145.33 137.00,144.50 C137.93,143.67 139.67,143.75 141.00,143.50 C142.33,143.25 143.75,143.28 145.00,143.00 C146.25,142.72 147.33,141.72 148.50,141.80 C149.67,141.88 151.23,142.63 152.00,143.50 C152.77,144.37 153.27,145.75 153.10,147.00 C152.93,148.25 152.18,150.07 151.00,151.00 C149.82,151.93 147.83,152.38 146.00,152.60 C144.17,152.82 141.58,152.48 140.00,152.30 C138.42,152.12 137.27,152.13 136.50,151.50 C135.73,150.87 135.32,149.67 135.40,148.50 Z" fill="#4290f0" transform="translate(141.50 147.50) scale(0.7) translate(-141.50 -147.50)"/>
<path d="M135.40,148.50 C135.48,147.33 136.07,145.33 137.00,144.50 C137.93,143.67 139.67,143.75 141.00,143.50 C142.33,143.25 143.75,143.28 145.00,143.00 C146.25,142.72 147.33,141.72 148.50,141.80 C149.67,141.88 151.23,142.63 152.00,143.50 C152.77,144.37 153.27,145.75 153.10,147.00 C152.93,148.25 152.18,150.07 151.00,151.00 C149.82,151.93 147.83,152.38 146.00,152.60 C144.17,152.82 141.58,152.48 140.00,152.30 C138.42,152.12 137.27,152.13 136.50,151.50 C135.73,150.87 135.32,149.67 135.40,148.50 Z" fill="#74d8f0" transform="translate(141.50 147.50) scale(0.5) translate(-141.50 -147.50)"/>
<path d="M135.40,148.50 C135.48,147.33 136.07,145.33 137.00,144.50 C137.93,143.67 139.67,143.75 141.00,143.50 C142.33,143.25 143.75,143.28 145.00,143.00 C146.25,142.72 147.33,141.72 148.50,141.80 C149.67,141.88 151.23,142.63 152.00,143.50 C152.77,144.37 153.27,145.75 153.10,147.00 C152.93,148.25 152.18,150.07 151.00,151.00 C149.82,151.93 147.83,152.38 146.00,152.60 C144.17,152.82 141.58,152.48 140.00,152.30 C138.42,152.12 137.27,152.13 136.50,151.50 C135.73,150.87 135.32,149.67 135.40,148.50 Z" fill="#8fe0c0" transform="translate(141.50 147.50) scale(0.3) translate(-141.50 -147.50)"/>
</g>
<circle cx="134.20" cy="144.90" r="0.8" fill="#0e1b8c"/>
<g filter="url(#bl)">
<path d="M186.30,152.50 C186.30,150.83 186.63,148.70 187.50,147.50 C188.37,146.30 190.17,145.38 191.50,145.30 C192.83,145.22 194.63,145.80 195.50,147.00 C196.37,148.20 196.70,150.75 196.70,152.50 C196.70,154.25 196.37,156.33 195.50,157.50 C194.63,158.67 192.83,159.50 191.50,159.50 C190.17,159.50 188.37,158.67 187.50,157.50 C186.63,156.33 186.30,154.17 186.30,152.50 Z" fill="#0e1b8c"/>
<path d="M186.30,152.50 C186.30,150.83 186.63,148.70 187.50,147.50 C188.37,146.30 190.17,145.38 191.50,145.30 C192.83,145.22 194.63,145.80 195.50,147.00 C196.37,148.20 196.70,150.75 196.70,152.50 C196.70,154.25 196.37,156.33 195.50,157.50 C194.63,158.67 192.83,159.50 191.50,159.50 C190.17,159.50 188.37,158.67 187.50,157.50 C186.63,156.33 186.30,154.17 186.30,152.50 Z" fill="#2145df" transform="translate(191.70 152.60) scale(0.8) translate(-191.70 -152.60)"/>
<path d="M186.30,152.50 C186.30,150.83 186.63,148.70 187.50,147.50 C188.37,146.30 190.17,145.38 191.50,145.30 C192.83,145.22 194.63,145.80 195.50,147.00 C196.37,148.20 196.70,150.75 196.70,152.50 C196.70,154.25 196.37,156.33 195.50,157.50 C194.63,158.67 192.83,159.50 191.50,159.50 C190.17,159.50 188.37,158.67 187.50,157.50 C186.63,156.33 186.30,154.17 186.30,152.50 Z" fill="#74d8f0" transform="translate(191.70 152.60) scale(0.62) translate(-191.70 -152.60)"/>
<path d="M186.30,152.50 C186.30,150.83 186.63,148.70 187.50,147.50 C188.37,146.30 190.17,145.38 191.50,145.30 C192.83,145.22 194.63,145.80 195.50,147.00 C196.37,148.20 196.70,150.75 196.70,152.50 C196.70,154.25 196.37,156.33 195.50,157.50 C194.63,158.67 192.83,159.50 191.50,159.50 C190.17,159.50 188.37,158.67 187.50,157.50 C186.63,156.33 186.30,154.17 186.30,152.50 Z" fill="#9ae070" transform="translate(191.70 152.60) scale(0.4) translate(-191.70 -152.60)"/>
<path d="M186.30,152.50 C186.30,150.83 186.63,148.70 187.50,147.50 C188.37,146.30 190.17,145.38 191.50,145.30 C192.83,145.22 194.63,145.80 195.50,147.00 C196.37,148.20 196.70,150.75 196.70,152.50 C196.70,154.25 196.37,156.33 195.50,157.50 C194.63,158.67 192.83,159.50 191.50,159.50 C190.17,159.50 188.37,158.67 187.50,157.50 C186.63,156.33 186.30,154.17 186.30,152.50 Z" fill="#7cd84a" transform="translate(191.70 152.60) scale(0.2) translate(-191.70 -152.60)"/>
</g>
<g filter="url(#bl)">
<path d="M199.80,151.80 C200.13,151.18 202.13,150.52 203.00,149.80 C203.87,149.08 203.83,148.30 205.00,147.50 C206.17,146.70 208.00,145.50 210.00,145.00 C212.00,144.50 215.08,144.25 217.00,144.50 C218.92,144.75 220.58,145.58 221.50,146.50 C222.42,147.42 222.75,148.67 222.50,150.00 C222.25,151.33 221.58,153.33 220.00,154.50 C218.42,155.67 215.50,156.48 213.00,157.00 C210.50,157.52 206.67,157.90 205.00,157.60 C203.33,157.30 203.67,155.88 203.00,155.20 C202.33,154.52 201.53,154.07 201.00,153.50 C200.47,152.93 199.47,152.42 199.80,151.80 Z" fill="#0e1b8c"/>
<path d="M199.80,151.80 C200.13,151.18 202.13,150.52 203.00,149.80 C203.87,149.08 203.83,148.30 205.00,147.50 C206.17,146.70 208.00,145.50 210.00,145.00 C212.00,144.50 215.08,144.25 217.00,144.50 C218.92,144.75 220.58,145.58 221.50,146.50 C222.42,147.42 222.75,148.67 222.50,150.00 C222.25,151.33 221.58,153.33 220.00,154.50 C218.42,155.67 215.50,156.48 213.00,157.00 C210.50,157.52 206.67,157.90 205.00,157.60 C203.33,157.30 203.67,155.88 203.00,155.20 C202.33,154.52 201.53,154.07 201.00,153.50 C200.47,152.93 199.47,152.42 199.80,151.80 Z" fill="#2145df" transform="translate(213.20 151.50) scale(0.88) translate(-213.20 -151.50)"/>
<path d="M199.80,151.80 C200.13,151.18 202.13,150.52 203.00,149.80 C203.87,149.08 203.83,148.30 205.00,147.50 C206.17,146.70 208.00,145.50 210.00,145.00 C212.00,144.50 215.08,144.25 217.00,144.50 C218.92,144.75 220.58,145.58 221.50,146.50 C222.42,147.42 222.75,148.67 222.50,150.00 C222.25,151.33 221.58,153.33 220.00,154.50 C218.42,155.67 215.50,156.48 213.00,157.00 C210.50,157.52 206.67,157.90 205.00,157.60 C203.33,157.30 203.67,155.88 203.00,155.20 C202.33,154.52 201.53,154.07 201.00,153.50 C200.47,152.93 199.47,152.42 199.80,151.80 Z" fill="#74d8f0" transform="translate(213.20 151.50) scale(0.74) translate(-213.20 -151.50)"/>
<path d="M199.80,151.80 C200.13,151.18 202.13,150.52 203.00,149.80 C203.87,149.08 203.83,148.30 205.00,147.50 C206.17,146.70 208.00,145.50 210.00,145.00 C212.00,144.50 215.08,144.25 217.00,144.50 C218.92,144.75 220.58,145.58 221.50,146.50 C222.42,147.42 222.75,148.67 222.50,150.00 C222.25,151.33 221.58,153.33 220.00,154.50 C218.42,155.67 215.50,156.48 213.00,157.00 C210.50,157.52 206.67,157.90 205.00,157.60 C203.33,157.30 203.67,155.88 203.00,155.20 C202.33,154.52 201.53,154.07 201.00,153.50 C200.47,152.93 199.47,152.42 199.80,151.80 Z" fill="#a6e276" transform="translate(213.20 151.50) scale(0.6) translate(-213.20 -151.50)"/>
<path d="M199.80,151.80 C200.13,151.18 202.13,150.52 203.00,149.80 C203.87,149.08 203.83,148.30 205.00,147.50 C206.17,146.70 208.00,145.50 210.00,145.00 C212.00,144.50 215.08,144.25 217.00,144.50 C218.92,144.75 220.58,145.58 221.50,146.50 C222.42,147.42 222.75,148.67 222.50,150.00 C222.25,151.33 221.58,153.33 220.00,154.50 C218.42,155.67 215.50,156.48 213.00,157.00 C210.50,157.52 206.67,157.90 205.00,157.60 C203.33,157.30 203.67,155.88 203.00,155.20 C202.33,154.52 201.53,154.07 201.00,153.50 C200.47,152.93 199.47,152.42 199.80,151.80 Z" fill="#e8e23e" transform="translate(213.20 151.50) scale(0.45) translate(-213.20 -151.50)"/>
<path d="M199.80,151.80 C200.13,151.18 202.13,150.52 203.00,149.80 C203.87,149.08 203.83,148.30 205.00,147.50 C206.17,146.70 208.00,145.50 210.00,145.00 C212.00,144.50 215.08,144.25 217.00,144.50 C218.92,144.75 220.58,145.58 221.50,146.50 C222.42,147.42 222.75,148.67 222.50,150.00 C222.25,151.33 221.58,153.33 220.00,154.50 C218.42,155.67 215.50,156.48 213.00,157.00 C210.50,157.52 206.67,157.90 205.00,157.60 C203.33,157.30 203.67,155.88 203.00,155.20 C202.33,154.52 201.53,154.07 201.00,153.50 C200.47,152.93 199.47,152.42 199.80,151.80 Z" fill="#f0a222" transform="translate(213.20 151.50) scale(0.3) translate(-213.20 -151.50)"/>
<path d="M199.80,151.80 C200.13,151.18 202.13,150.52 203.00,149.80 C203.87,149.08 203.83,148.30 205.00,147.50 C206.17,146.70 208.00,145.50 210.00,145.00 C212.00,144.50 215.08,144.25 217.00,144.50 C218.92,144.75 220.58,145.58 221.50,146.50 C222.42,147.42 222.75,148.67 222.50,150.00 C222.25,151.33 221.58,153.33 220.00,154.50 C218.42,155.67 215.50,156.48 213.00,157.00 C210.50,157.52 206.67,157.90 205.00,157.60 C203.33,157.30 203.67,155.88 203.00,155.20 C202.33,154.52 201.53,154.07 201.00,153.50 C200.47,152.93 199.47,152.42 199.80,151.80 Z" fill="#c83418" transform="translate(213.20 151.50) scale(0.17) translate(-213.20 -151.50)"/>
</g>
<line x1="45.60" y1="180.70" x2="236.00" y2="180.70" stroke="#1c1c1c" stroke-width="1.5"/>
<path d="M243.6,180.7 L234.5,177.9 L234.5,183.5 Z" stroke="none" stroke-width="1" fill="#1c1c1c"/>
<text x="147.20" y="191.90" font-size="10.0" text-anchor="middle" textLength="21.00" lengthAdjust="spacingAndGlyphs">EGFRt</text>
<rect x="45.50" y="28.90" width="63.40" height="63.60" stroke="#1c1c1c" stroke-width="1.3" fill="none"/>
<rect x="115.00" y="28.90" width="63.40" height="63.60" stroke="#1c1c1c" stroke-width="1.3" fill="none"/>
<rect x="184.60" y="28.90" width="63.40" height="63.60" stroke="#1c1c1c" stroke-width="1.3" fill="none"/>
<rect x="45.50" y="100.60" width="63.40" height="63.60" stroke="#1c1c1c" stroke-width="1.3" fill="none"/>
<rect x="115.00" y="100.60" width="63.40" height="63.60" stroke="#1c1c1c" stroke-width="1.3" fill="none"/>
<rect x="184.60" y="100.60" width="63.40" height="63.60" stroke="#1c1c1c" stroke-width="1.3" fill="none"/>
<text x="339.20" y="23.00" font-size="8.6" text-anchor="middle" font-weight="bold" fill="#111">PB</text>
<text x="407.60" y="23.00" font-size="8.6" text-anchor="middle" font-weight="bold" fill="#111">BM</text>
<text x="473.80" y="23.00" font-size="8.6" text-anchor="middle" font-weight="bold" fill="#111">CSF</text>
<text x="285.00" y="64.90" font-size="9.3" text-anchor="middle" textLength="43.20" lengthAdjust="spacingAndGlyphs" transform="rotate(-90 285.00 64.90)">Pre-infusion</text>
<text x="283.40" y="135.20" font-size="9.3" text-anchor="middle" textLength="26.80" lengthAdjust="spacingAndGlyphs" transform="rotate(-90 283.40 135.20)">Day +21</text>
<line x1="271.70" y1="38.00" x2="271.70" y2="163.00" stroke="#1c1c1c" stroke-width="1.5"/>
<path d="M271.7,30.8 L268.9,39.5 L274.5,39.5 Z" stroke="none" stroke-width="1" fill="#1c1c1c"/>
<text x="268.00" y="100.30" font-size="9.2" text-anchor="middle" font-weight="bold" fill="#111" textLength="22.50" lengthAdjust="spacingAndGlyphs" transform="rotate(-90 268.00 100.30)">CD19</text>
<line x1="304.20" y1="37.60" x2="307.20" y2="37.60" stroke="#1c1c1c" stroke-width="0.9"/>
<text x="300.60" y="40.00" font-size="6.6" text-anchor="end" textLength="8.40" lengthAdjust="spacingAndGlyphs">10<tspan font-size="3.96" dx="0.53" dy="-2.97">5</tspan></text>
<line x1="304.20" y1="51.00" x2="307.20" y2="51.00" stroke="#1c1c1c" stroke-width="0.9"/>
<text x="300.60" y="53.40" font-size="6.6" text-anchor="end" textLength="8.40" lengthAdjust="spacingAndGlyphs">10<tspan font-size="3.96" dx="0.53" dy="-2.97">4</tspan></text>
<line x1="304.20" y1="64.70" x2="307.20" y2="64.70" stroke="#1c1c1c" stroke-width="0.9"/>
<text x="300.60" y="67.10" font-size="6.6" text-anchor="end" textLength="8.40" lengthAdjust="spacingAndGlyphs">10<tspan font-size="3.96" dx="0.53" dy="-2.97">3</tspan></text>
<line x1="304.20" y1="78.20" x2="307.20" y2="78.20" stroke="#1c1c1c" stroke-width="0.9"/>
<text x="300.60" y="80.60" font-size="6.6" text-anchor="end" textLength="8.40" lengthAdjust="spacingAndGlyphs">10<tspan font-size="3.96" dx="0.53" dy="-2.97">2</tspan></text>
<line x1="304.20" y1="84.50" x2="307.20" y2="84.50" stroke="#1c1c1c" stroke-width="0.9"/>
<text x="300.60" y="86.90" font-size="6.6" text-anchor="end" textLength="3.11" lengthAdjust="spacingAndGlyphs">0</text>
<line x1="304.20" y1="90.60" x2="307.20" y2="90.60" stroke="#1c1c1c" stroke-width="0.9"/>
<text x="300.60" y="93.20" font-size="6.6" text-anchor="end" textLength="11.00" lengthAdjust="spacingAndGlyphs">-10<tspan font-size="3.96" dx="0.53" dy="-2.97">2</tspan></text>
<line x1="304.20" y1="108.80" x2="307.20" y2="108.80" stroke="#1c1c1c" stroke-width="0.9"/>
<text x="300.60" y="111.20" font-size="6.6" text-anchor="end" textLength="8.40" lengthAdjust="spacingAndGlyphs">10<tspan font-size="3.96" dx="0.53" dy="-2.97">5</tspan></text>
<line x1="304.20" y1="122.20" x2="307.20" y2="122.20" stroke="#1c1c1c" stroke-width="0.9"/>
<text x="300.60" y="124.60" font-size="6.6" text-anchor="end" textLength="8.40" lengthAdjust="spacingAndGlyphs">10<tspan font-size="3.96" dx="0.53" dy="-2.97">4</tspan></text>
<line x1="304.20" y1="135.90" x2="307.20" y2="135.90" stroke="#1c1c1c" stroke-width="0.9"/>
<text x="300.60" y="138.30" font-size="6.6" text-anchor="end" textLength="8.40" lengthAdjust="spacingAndGlyphs">10<tspan font-size="3.96" dx="0.53" dy="-2.97">3</tspan></text>
<line x1="304.20" y1="149.40" x2="307.20" y2="149.40" stroke="#1c1c1c" stroke-width="0.9"/>
<text x="300.60" y="151.80" font-size="6.6" text-anchor="end" textLength="8.40" lengthAdjust="spacingAndGlyphs">10<tspan font-size="3.96" dx="0.53" dy="-2.97">2</tspan></text>
<line x1="304.20" y1="155.70" x2="307.20" y2="155.70" stroke="#1c1c1c" stroke-width="0.9"/>
<text x="300.60" y="158.10" font-size="6.6" text-anchor="end" textLength="3.11" lengthAdjust="spacingAndGlyphs">0</text>
<line x1="304.20" y1="161.80" x2="307.20" y2="161.80" stroke="#1c1c1c" stroke-width="0.9"/>
<text x="300.60" y="164.40" font-size="6.6" text-anchor="end" textLength="11.00" lengthAdjust="spacingAndGlyphs">-10<tspan font-size="3.96" dx="0.53" dy="-2.97">2</tspan></text>
<line x1="308.90" y1="164.30" x2="308.90" y2="166.70" stroke="#1c1c1c" stroke-width="0.9"/>
<line x1="314.00" y1="164.30" x2="314.00" y2="166.70" stroke="#1c1c1c" stroke-width="0.9"/>
<line x1="320.50" y1="164.30" x2="320.50" y2="166.70" stroke="#1c1c1c" stroke-width="0.9"/>
<line x1="325.60" y1="164.30" x2="325.60" y2="166.70" stroke="#1c1c1c" stroke-width="0.9"/>
<line x1="332.70" y1="164.30" x2="332.70" y2="166.70" stroke="#1c1c1c" stroke-width="0.9"/>
<line x1="335.90" y1="164.30" x2="335.90" y2="166.70" stroke="#1c1c1c" stroke-width="0.9"/>
<line x1="339.70" y1="164.30" x2="339.70" y2="166.70" stroke="#1c1c1c" stroke-width="0.9"/>
<line x1="343.70" y1="164.30" x2="343.70" y2="166.70" stroke="#1c1c1c" stroke-width="0.9"/>
<line x1="347.50" y1="164.30" x2="347.50" y2="166.70" stroke="#1c1c1c" stroke-width="0.9"/>
<line x1="350.70" y1="164.30" x2="350.70" y2="166.70" stroke="#1c1c1c" stroke-width="0.9"/>
<line x1="354.60" y1="164.30" x2="354.60" y2="166.70" stroke="#1c1c1c" stroke-width="0.9"/>
<line x1="357.80" y1="164.30" x2="357.80" y2="166.70" stroke="#1c1c1c" stroke-width="0.9"/>
<line x1="363.00" y1="164.30" x2="363.00" y2="166.70" stroke="#1c1c1c" stroke-width="0.9"/>
<text x="315.00" y="177.00" font-size="6.3" text-anchor="middle">0</text>
<text x="335.80" y="177.00" font-size="6.3" text-anchor="middle">10<tspan font-size="3.78" dx="0.50" dy="-2.83">3</tspan></text>
<text x="348.50" y="177.00" font-size="6.3" text-anchor="middle">10<tspan font-size="3.78" dx="0.50" dy="-2.83">4</tspan></text>
<text x="363.00" y="177.00" font-size="6.3" text-anchor="middle">10<tspan font-size="3.78" dx="0.50" dy="-2.83">5</tspan></text>
<line x1="378.40" y1="164.30" x2="378.40" y2="166.70" stroke="#1c1c1c" stroke-width="0.9"/>
<line x1="383.50" y1="164.30" x2="383.50" y2="166.70" stroke="#1c1c1c" stroke-width="0.9"/>
<line x1="390.00" y1="164.30" x2="390.00" y2="166.70" stroke="#1c1c1c" stroke-width="0.9"/>
<line x1="395.10" y1="164.30" x2="395.10" y2="166.70" stroke="#1c1c1c" stroke-width="0.9"/>
<line x1="402.20" y1="164.30" x2="402.20" y2="166.70" stroke="#1c1c1c" stroke-width="0.9"/>
<line x1="405.40" y1="164.30" x2="405.40" y2="166.70" stroke="#1c1c1c" stroke-width="0.9"/>
<line x1="409.20" y1="164.30" x2="409.20" y2="166.70" stroke="#1c1c1c" stroke-width="0.9"/>
<line x1="413.20" y1="164.30" x2="413.20" y2="166.70" stroke="#1c1c1c" stroke-width="0.9"/>
<line x1="417.00" y1="164.30" x2="417.00" y2="166.70" stroke="#1c1c1c" stroke-width="0.9"/>
<line x1="420.20" y1="164.30" x2="420.20" y2="166.70" stroke="#1c1c1c" stroke-width="0.9"/>
<line x1="424.10" y1="164.30" x2="424.10" y2="166.70" stroke="#1c1c1c" stroke-width="0.9"/>
<line x1="427.30" y1="164.30" x2="427.30" y2="166.70" stroke="#1c1c1c" stroke-width="0.9"/>
<line x1="432.50" y1="164.30" x2="432.50" y2="166.70" stroke="#1c1c1c" stroke-width="0.9"/>
<text x="384.50" y="177.00" font-size="6.3" text-anchor="middle">0</text>
<text x="405.30" y="177.00" font-size="6.3" text-anchor="middle">10<tspan font-size="3.78" dx="0.50" dy="-2.83">3</tspan></text>
<text x="418.00" y="177.00" font-size="6.3" text-anchor="middle">10<tspan font-size="3.78" dx="0.50" dy="-2.83">4</tspan></text>
<text x="432.50" y="177.00" font-size="6.3" text-anchor="middle">10<tspan font-size="3.78" dx="0.50" dy="-2.83">5</tspan></text>
<line x1="447.70" y1="164.30" x2="447.70" y2="166.70" stroke="#1c1c1c" stroke-width="0.9"/>
<line x1="452.80" y1="164.30" x2="452.80" y2="166.70" stroke="#1c1c1c" stroke-width="0.9"/>
<line x1="459.30" y1="164.30" x2="459.30" y2="166.70" stroke="#1c1c1c" stroke-width="0.9"/>
<line x1="464.40" y1="164.30" x2="464.40" y2="166.70" stroke="#1c1c1c" stroke-width="0.9"/>
<line x1="471.50" y1="164.30" x2="471.50" y2="166.70" stroke="#1c1c1c" stroke-width="0.9"/>
<line x1="474.70" y1="164.30" x2="474.70" y2="166.70" stroke="#1c1c1c" stroke-width="0.9"/>
<line x1="478.50" y1="164.30" x2="478.50" y2="166.70" stroke="#1c1c1c" stroke-width="0.9"/>
<line x1="482.50" y1="164.30" x2="482.50" y2="166.70" stroke="#1c1c1c" stroke-width="0.9"/>
<line x1="486.30" y1="164.30" x2="486.30" y2="166.70" stroke="#1c1c1c" stroke-width="0.9"/>
<line x1="489.50" y1="164.30" x2="489.50" y2="166.70" stroke="#1c1c1c" stroke-width="0.9"/>
<line x1="493.40" y1="164.30" x2="493.40" y2="166.70" stroke="#1c1c1c" stroke-width="0.9"/>
<line x1="496.60" y1="164.30" x2="496.60" y2="166.70" stroke="#1c1c1c" stroke-width="0.9"/>
<line x1="501.80" y1="164.30" x2="501.80" y2="166.70" stroke="#1c1c1c" stroke-width="0.9"/>
<text x="453.80" y="177.00" font-size="6.3" text-anchor="middle">0</text>
<text x="474.60" y="177.00" font-size="6.3" text-anchor="middle">10<tspan font-size="3.78" dx="0.50" dy="-2.83">3</tspan></text>
<text x="487.30" y="177.00" font-size="6.3" text-anchor="middle">10<tspan font-size="3.78" dx="0.50" dy="-2.83">4</tspan></text>
<text x="501.80" y="177.00" font-size="6.3" text-anchor="middle">10<tspan font-size="3.78" dx="0.50" dy="-2.83">5</tspan></text>
<text x="340.00" y="60.00" font-size="6.4" text-anchor="middle" font-weight="bold">8.96</text>
<text x="409.40" y="60.00" font-size="6.4" text-anchor="middle" font-weight="bold">81.3</text>
<text x="483.50" y="60.00" font-size="6.4" text-anchor="middle" font-weight="bold">10.6</text>
<text x="344.40" y="135.60" font-size="6.4" text-anchor="middle" font-weight="bold">0.044</text>
<text x="413.90" y="135.60" font-size="6.4" text-anchor="middle" font-weight="bold">0.050</text>
<text x="482.40" y="135.60" font-size="6.4" text-anchor="middle" font-weight="bold">0</text>
<rect x="312.30" y="54.40" width="12.10" height="26.20" stroke="#9a9a9a" stroke-width="0.8" fill="none"/>
<rect x="379.20" y="57.30" width="12.20" height="26.20" stroke="#9a9a9a" stroke-width="0.8" fill="none"/>
<rect x="451.30" y="53.20" width="12.30" height="26.30" stroke="#9a9a9a" stroke-width="0.8" fill="none"/>
<rect x="312.30" y="124.40" width="12.30" height="26.10" stroke="#9a9a9a" stroke-width="0.8" fill="none"/>
<rect x="381.80" y="124.20" width="12.40" height="26.70" stroke="#9a9a9a" stroke-width="0.8" fill="none"/>
<rect x="451.30" y="124.40" width="12.10" height="26.10" stroke="#9a9a9a" stroke-width="0.8" fill="none"/>
<g filter="url(#bl)">
<path d="M315.50,68.00 C316.08,66.52 317.42,65.27 318.50,65.10 C319.58,64.93 321.17,65.68 322.00,67.00 C322.83,68.32 323.23,71.00 323.50,73.00 C323.77,75.00 323.18,77.42 323.60,79.00 C324.02,80.58 325.17,81.58 326.00,82.50 C326.83,83.42 328.60,83.62 328.60,84.50 C328.60,85.38 327.43,86.90 326.00,87.80 C324.57,88.70 322.17,89.58 320.00,89.90 C317.83,90.22 314.73,90.18 313.00,89.70 C311.27,89.22 309.93,88.07 309.60,87.00 C309.27,85.93 310.18,84.47 311.00,83.30 C311.82,82.13 313.83,81.55 314.50,80.00 C315.17,78.45 314.83,76.00 315.00,74.00 C315.17,72.00 314.92,69.48 315.50,68.00 Z" fill="#0e1b8c"/>
<path d="M316.40,69.00 C316.82,67.73 317.73,66.57 318.50,66.40 C319.27,66.23 320.35,66.90 321.00,68.00 C321.65,69.10 322.15,71.08 322.40,73.00 C322.65,74.92 322.07,77.83 322.50,79.50 C322.93,81.17 324.25,82.12 325.00,83.00 C325.75,83.88 327.00,84.17 327.00,84.80 C327.00,85.43 326.17,86.13 325.00,86.80 C323.83,87.47 321.92,88.50 320.00,88.80 C318.08,89.10 315.03,88.93 313.50,88.60 C311.97,88.27 311.05,87.60 310.80,86.80 C310.55,86.00 311.22,84.85 312.00,83.80 C312.78,82.75 314.83,82.13 315.50,80.50 C316.17,78.87 315.85,75.92 316.00,74.00 C316.15,72.08 315.98,70.27 316.40,69.00 Z" fill="#2145df"/>
<path d="M323.20,85.00 C323.20,85.50 322.92,86.07 322.45,86.50 C321.98,86.93 321.21,87.35 320.40,87.60 C319.59,87.85 318.53,88.00 317.60,88.00 C316.67,88.00 315.61,87.85 314.80,87.60 C313.99,87.35 313.22,86.93 312.75,86.50 C312.28,86.07 312.00,85.50 312.00,85.00 C312.00,84.50 312.28,83.93 312.75,83.50 C313.22,83.07 313.99,82.65 314.80,82.40 C315.61,82.15 316.67,82.00 317.60,82.00 C318.53,82.00 319.59,82.15 320.40,82.40 C321.21,82.65 321.98,83.07 322.45,83.50 C322.92,83.93 323.20,84.50 323.20,85.00 Z" fill="#4290f0"/>
<path d="M321.80,85.00 C321.80,85.37 321.59,85.78 321.24,86.10 C320.89,86.42 320.31,86.72 319.70,86.91 C319.09,87.09 318.30,87.20 317.60,87.20 C316.90,87.20 316.11,87.09 315.50,86.91 C314.89,86.72 314.31,86.42 313.96,86.10 C313.61,85.78 313.40,85.37 313.40,85.00 C313.40,84.63 313.61,84.22 313.96,83.90 C314.31,83.58 314.89,83.28 315.50,83.09 C316.11,82.91 316.90,82.80 317.60,82.80 C318.30,82.80 319.09,82.91 319.70,83.09 C320.31,83.28 320.89,83.58 321.24,83.90 C321.59,84.22 321.80,84.63 321.80,85.00 Z" fill="#74d8f0"/>
<path d="M320.40,85.00 C320.40,85.25 320.26,85.53 320.02,85.75 C319.79,85.97 319.40,86.17 319.00,86.30 C318.60,86.42 318.07,86.50 317.60,86.50 C317.13,86.50 316.60,86.42 316.20,86.30 C315.80,86.17 315.41,85.97 315.18,85.75 C314.94,85.53 314.80,85.25 314.80,85.00 C314.80,84.75 314.94,84.47 315.18,84.25 C315.41,84.03 315.80,83.83 316.20,83.70 C316.60,83.58 317.13,83.50 317.60,83.50 C318.07,83.50 318.60,83.58 319.00,83.70 C319.40,83.83 319.79,84.03 320.02,84.25 C320.26,84.47 320.40,84.75 320.40,85.00 Z" fill="#c4e85a"/>
<path d="M318.80,85.00 C318.80,85.13 318.74,85.28 318.64,85.40 C318.54,85.52 318.37,85.63 318.20,85.69 C318.03,85.76 317.80,85.80 317.60,85.80 C317.40,85.80 317.17,85.76 317.00,85.69 C316.83,85.63 316.66,85.52 316.56,85.40 C316.46,85.28 316.40,85.13 316.40,85.00 C316.40,84.87 316.46,84.72 316.56,84.60 C316.66,84.48 316.83,84.37 317.00,84.31 C317.17,84.24 317.40,84.20 317.60,84.20 C317.80,84.20 318.03,84.24 318.20,84.31 C318.37,84.37 318.54,84.48 318.64,84.60 C318.74,84.72 318.80,84.87 318.80,85.00 Z" fill="#8a8a20"/>
</g>
<ellipse cx="334.5" cy="82.3" rx="0.9" ry="1.6" transform="rotate(40 334.5 82.3)" fill="#1a2090"/>
<g filter="url(#bl)">
<path d="M381.30,70.00 C381.63,67.50 382.05,63.62 383.00,62.00 C383.95,60.38 385.75,60.22 387.00,60.30 C388.25,60.38 389.57,61.22 390.50,62.50 C391.43,63.78 392.32,65.92 392.60,68.00 C392.88,70.08 392.20,72.77 392.20,75.00 C392.20,77.23 391.30,80.28 392.60,81.40 C393.90,82.52 397.43,81.62 400.00,81.70 C402.57,81.78 406.08,81.42 408.00,81.90 C409.92,82.38 411.25,83.63 411.50,84.60 C411.75,85.57 411.42,87.10 409.50,87.70 C407.58,88.30 403.25,88.03 400.00,88.20 C396.75,88.37 392.83,88.70 390.00,88.70 C387.17,88.70 384.47,88.98 383.00,88.20 C381.53,87.42 381.53,85.87 381.20,84.00 C380.87,82.13 380.98,79.33 381.00,77.00 C381.02,74.67 380.97,72.50 381.30,70.00 Z" fill="#0e1b8c"/>
<path d="M382.50,70.00 C382.80,67.72 383.25,64.70 384.00,63.30 C384.75,61.90 386.03,61.57 387.00,61.60 C387.97,61.63 389.08,62.35 389.80,63.50 C390.52,64.65 391.13,66.58 391.30,68.50 C391.47,70.42 390.78,72.65 390.80,75.00 C390.82,77.35 389.87,81.30 391.40,82.60 C392.93,83.90 397.23,82.73 400.00,82.80 C402.77,82.87 406.30,82.67 408.00,83.00 C409.70,83.33 410.07,84.20 410.20,84.80 C410.33,85.40 410.50,86.22 408.80,86.60 C407.10,86.98 403.13,86.95 400.00,87.10 C396.87,87.25 392.75,87.50 390.00,87.50 C387.25,87.50 384.77,87.68 383.50,87.10 C382.23,86.52 382.62,85.68 382.40,84.00 C382.18,82.32 382.18,79.33 382.20,77.00 C382.22,74.67 382.20,72.28 382.50,70.00 Z" fill="#2145df"/>
<path d="M383.60,70.00 C383.77,67.92 384.43,65.67 385.00,64.50 C385.57,63.33 386.33,63.00 387.00,63.00 C387.67,63.00 388.53,63.50 389.00,64.50 C389.47,65.50 389.88,67.08 389.80,69.00 C389.72,70.92 388.83,73.83 388.50,76.00 C388.17,78.17 388.22,81.00 387.80,82.00 C387.38,83.00 386.63,82.83 386.00,82.00 C385.37,81.17 384.40,79.00 384.00,77.00 C383.60,75.00 383.43,72.08 383.60,70.00 Z" fill="#74d8f0"/>
<path d="M384.30,70.00 C384.30,68.25 384.97,66.43 385.40,65.50 C385.83,64.57 386.42,64.38 386.90,64.40 C387.38,64.42 387.98,64.75 388.30,65.60 C388.62,66.45 388.92,67.85 388.80,69.50 C388.68,71.15 387.95,73.92 387.60,75.50 C387.25,77.08 387.07,78.92 386.70,79.00 C386.33,79.08 385.80,77.50 385.40,76.00 C385.00,74.50 384.30,71.75 384.30,70.00 Z" fill="#9ee08a"/>
<path d="M387.40,69.00 C387.40,69.60 387.31,70.28 387.17,70.80 C387.03,71.32 386.80,71.82 386.55,72.12 C386.30,72.42 385.98,72.60 385.70,72.60 C385.42,72.60 385.10,72.42 384.85,72.12 C384.60,71.82 384.37,71.32 384.23,70.80 C384.09,70.28 384.00,69.60 384.00,69.00 C384.00,68.40 384.09,67.72 384.23,67.20 C384.37,66.68 384.60,66.18 384.85,65.88 C385.10,65.58 385.42,65.40 385.70,65.40 C385.98,65.40 386.30,65.58 386.55,65.88 C386.80,66.18 387.03,66.68 387.17,67.20 C387.31,67.72 387.40,68.40 387.40,69.00 Z" fill="#c8e64c"/>
<path d="M386.80,68.40 C386.80,68.80 386.74,69.25 386.64,69.60 C386.54,69.95 386.37,70.28 386.20,70.48 C386.03,70.68 385.80,70.80 385.60,70.80 C385.40,70.80 385.17,70.68 385.00,70.48 C384.83,70.28 384.66,69.95 384.56,69.60 C384.46,69.25 384.40,68.80 384.40,68.40 C384.40,68.00 384.46,67.55 384.56,67.20 C384.66,66.85 384.83,66.52 385.00,66.32 C385.17,66.12 385.40,66.00 385.60,66.00 C385.80,66.00 386.03,66.12 386.20,66.32 C386.37,66.52 386.54,66.85 386.64,67.20 C386.74,67.55 386.80,68.00 386.80,68.40 Z" fill="#e8c830"/>
<path d="M386.40,68.10 C386.40,68.40 386.35,68.74 386.28,69.00 C386.20,69.26 386.08,69.51 385.95,69.66 C385.82,69.81 385.65,69.90 385.50,69.90 C385.35,69.90 385.18,69.81 385.05,69.66 C384.92,69.51 384.80,69.26 384.72,69.00 C384.65,68.74 384.60,68.40 384.60,68.10 C384.60,67.80 384.65,67.46 384.72,67.20 C384.80,66.94 384.92,66.69 385.05,66.54 C385.18,66.39 385.35,66.30 385.50,66.30 C385.65,66.30 385.82,66.39 385.95,66.54 C386.08,66.69 386.20,66.94 386.28,67.20 C386.35,67.46 386.40,67.80 386.40,68.10 Z" fill="#8a3a10"/>
<path d="M391.00,85.40 C391.00,85.65 390.83,85.93 390.54,86.15 C390.26,86.37 389.79,86.57 389.30,86.70 C388.81,86.82 388.17,86.90 387.60,86.90 C387.03,86.90 386.39,86.82 385.90,86.70 C385.41,86.57 384.94,86.37 384.66,86.15 C384.37,85.93 384.20,85.65 384.20,85.40 C384.20,85.15 384.37,84.87 384.66,84.65 C384.94,84.43 385.41,84.23 385.90,84.10 C386.39,83.98 387.03,83.90 387.60,83.90 C388.17,83.90 388.81,83.98 389.30,84.10 C389.79,84.23 390.26,84.43 390.54,84.65 C390.83,84.87 391.00,85.15 391.00,85.40 Z" fill="#4290f0"/>
<path d="M389.60,85.40 C389.60,85.55 389.50,85.72 389.33,85.85 C389.17,85.98 388.89,86.10 388.60,86.18 C388.31,86.25 387.93,86.30 387.60,86.30 C387.27,86.30 386.89,86.25 386.60,86.18 C386.31,86.10 386.03,85.98 385.87,85.85 C385.70,85.72 385.60,85.55 385.60,85.40 C385.60,85.25 385.70,85.08 385.87,84.95 C386.03,84.82 386.31,84.70 386.60,84.62 C386.89,84.55 387.27,84.50 387.60,84.50 C387.93,84.50 388.31,84.55 388.60,84.62 C388.89,84.70 389.17,84.82 389.33,84.95 C389.50,85.08 389.60,85.25 389.60,85.40 Z" fill="#74d8f0"/>
</g>
<g filter="url(#bl)">
<path d="M454.20,63.50 C454.45,62.50 454.87,60.45 455.50,59.50 C456.13,58.55 457.17,57.88 458.00,57.80 C458.83,57.72 459.82,58.22 460.50,59.00 C461.18,59.78 461.93,61.33 462.10,62.50 C462.27,63.67 461.93,65.00 461.50,66.00 C461.07,67.00 460.10,67.67 459.50,68.50 C458.90,69.33 458.30,70.15 457.90,71.00 C457.50,71.85 457.45,73.23 457.10,73.60 C456.75,73.97 456.05,73.88 455.80,73.20 C455.55,72.52 455.70,70.53 455.60,69.50 C455.50,68.47 455.47,67.67 455.20,67.00 C454.93,66.33 454.17,66.08 454.00,65.50 C453.83,64.92 453.95,64.50 454.20,63.50 Z" fill="#0e1b8c"/>
<path d="M455.30,63.50 C455.48,62.67 455.75,61.05 456.20,60.30 C456.65,59.55 457.37,59.07 458.00,59.00 C458.63,58.93 459.50,59.30 460.00,59.90 C460.50,60.50 460.92,61.65 461.00,62.60 C461.08,63.55 460.88,64.72 460.50,65.60 C460.12,66.48 459.27,67.12 458.70,67.90 C458.13,68.68 457.45,69.58 457.10,70.30 C456.75,71.02 456.70,72.33 456.60,72.20 C456.50,72.07 456.57,70.37 456.50,69.50 C456.43,68.63 456.43,67.70 456.20,67.00 C455.97,66.30 455.25,65.88 455.10,65.30 C454.95,64.72 455.12,64.33 455.30,63.50 Z" fill="#2145df"/>
<path d="M460.00,63.20 C460.00,63.67 459.91,64.20 459.76,64.60 C459.61,65.00 459.36,65.39 459.10,65.62 C458.84,65.86 458.50,66.00 458.20,66.00 C457.90,66.00 457.56,65.86 457.30,65.62 C457.04,65.39 456.79,65.00 456.64,64.60 C456.49,64.20 456.40,63.67 456.40,63.20 C456.40,62.73 456.49,62.20 456.64,61.80 C456.79,61.40 457.04,61.01 457.30,60.78 C457.56,60.54 457.90,60.40 458.20,60.40 C458.50,60.40 458.84,60.54 459.10,60.78 C459.36,61.01 459.61,61.40 459.76,61.80 C459.91,62.20 460.00,62.73 460.00,63.20 Z" fill="#3a7aee"/>
<path d="M462.60,84.90 C462.60,85.68 462.29,86.57 461.78,87.25 C461.27,87.93 460.43,88.58 459.55,88.97 C458.67,89.36 457.52,89.60 456.50,89.60 C455.48,89.60 454.33,89.36 453.45,88.97 C452.57,88.58 451.73,87.93 451.22,87.25 C450.71,86.57 450.40,85.68 450.40,84.90 C450.40,84.12 450.71,83.23 451.22,82.55 C451.73,81.87 452.57,81.22 453.45,80.83 C454.33,80.44 455.48,80.20 456.50,80.20 C457.52,80.20 458.67,80.44 459.55,80.83 C460.43,81.22 461.27,81.87 461.78,82.55 C462.29,83.23 462.60,84.12 462.60,84.90 Z" fill="#0e1b8c"/>
<path d="M461.50,84.90 C461.50,85.53 461.25,86.25 460.83,86.80 C460.41,87.35 459.72,87.87 459.00,88.19 C458.28,88.51 457.33,88.70 456.50,88.70 C455.67,88.70 454.72,88.51 454.00,88.19 C453.28,87.87 452.59,87.35 452.17,86.80 C451.75,86.25 451.50,85.53 451.50,84.90 C451.50,84.27 451.75,83.55 452.17,83.00 C452.59,82.45 453.28,81.93 454.00,81.61 C454.72,81.29 455.67,81.10 456.50,81.10 C457.33,81.10 458.28,81.29 459.00,81.61 C459.72,81.93 460.41,82.45 460.83,83.00 C461.25,83.55 461.50,84.27 461.50,84.90 Z" fill="#2145df"/>
<path d="M460.40,84.90 C460.40,85.40 460.20,85.97 459.88,86.40 C459.55,86.83 459.01,87.25 458.45,87.50 C457.89,87.75 457.15,87.90 456.50,87.90 C455.85,87.90 455.11,87.75 454.55,87.50 C453.99,87.25 453.45,86.83 453.12,86.40 C452.80,85.97 452.60,85.40 452.60,84.90 C452.60,84.40 452.80,83.83 453.12,83.40 C453.45,82.97 453.99,82.55 454.55,82.30 C455.11,82.05 455.85,81.90 456.50,81.90 C457.15,81.90 457.89,82.05 458.45,82.30 C459.01,82.55 459.55,82.97 459.88,83.40 C460.20,83.83 460.40,84.40 460.40,84.90 Z" fill="#74d8f0"/>
<path d="M458.90,84.90 C458.90,85.22 458.78,85.58 458.58,85.85 C458.38,86.12 458.05,86.39 457.70,86.55 C457.35,86.70 456.90,86.80 456.50,86.80 C456.10,86.80 455.65,86.70 455.30,86.55 C454.95,86.39 454.62,86.12 454.42,85.85 C454.22,85.58 454.10,85.22 454.10,84.90 C454.10,84.58 454.22,84.22 454.42,83.95 C454.62,83.68 454.95,83.41 455.30,83.25 C455.65,83.10 456.10,83.00 456.50,83.00 C456.90,83.00 457.35,83.10 457.70,83.25 C458.05,83.41 458.38,83.68 458.58,83.95 C458.78,84.22 458.90,84.58 458.90,84.90 Z" fill="#a8e070"/>
<path d="M457.50,84.90 C457.50,85.05 457.45,85.22 457.37,85.35 C457.28,85.48 457.14,85.60 457.00,85.68 C456.86,85.75 456.67,85.80 456.50,85.80 C456.33,85.80 456.14,85.75 456.00,85.68 C455.86,85.60 455.72,85.48 455.63,85.35 C455.55,85.22 455.50,85.05 455.50,84.90 C455.50,84.75 455.55,84.58 455.63,84.45 C455.72,84.32 455.86,84.20 456.00,84.12 C456.14,84.05 456.33,84.00 456.50,84.00 C456.67,84.00 456.86,84.05 457.00,84.12 C457.14,84.20 457.28,84.32 457.37,84.45 C457.45,84.58 457.50,84.75 457.50,84.90 Z" fill="#4a9a20"/>
</g>
<g filter="url(#bl)">
<path d="M310.70,157.00 C310.78,155.78 311.45,153.82 312.50,152.80 C313.55,151.78 315.25,151.10 317.00,150.90 C318.75,150.70 320.85,150.87 323.00,151.60 C325.15,152.33 329.73,154.13 329.90,155.30 C330.07,156.47 326.15,157.75 324.00,158.60 C321.85,159.45 319.00,160.15 317.00,160.40 C315.00,160.65 313.05,160.67 312.00,160.10 C310.95,159.53 310.62,158.22 310.70,157.00 Z" fill="#0e1b8c"/>
<path d="M310.70,157.00 C310.78,155.78 311.45,153.82 312.50,152.80 C313.55,151.78 315.25,151.10 317.00,150.90 C318.75,150.70 320.85,150.87 323.00,151.60 C325.15,152.33 329.73,154.13 329.90,155.30 C330.07,156.47 326.15,157.75 324.00,158.60 C321.85,159.45 319.00,160.15 317.00,160.40 C315.00,160.65 313.05,160.67 312.00,160.10 C310.95,159.53 310.62,158.22 310.70,157.00 Z" fill="#2145df" transform="translate(317.70 156.00) scale(0.85) translate(-317.70 -156.00)"/>
<path d="M310.70,157.00 C310.78,155.78 311.45,153.82 312.50,152.80 C313.55,151.78 315.25,151.10 317.00,150.90 C318.75,150.70 320.85,150.87 323.00,151.60 C325.15,152.33 329.73,154.13 329.90,155.30 C330.07,156.47 326.15,157.75 324.00,158.60 C321.85,159.45 319.00,160.15 317.00,160.40 C315.00,160.65 313.05,160.67 312.00,160.10 C310.95,159.53 310.62,158.22 310.70,157.00 Z" fill="#4290f0" transform="translate(317.70 156.00) scale(0.55) translate(-317.70 -156.00)"/>
<path d="M310.70,157.00 C310.78,155.78 311.45,153.82 312.50,152.80 C313.55,151.78 315.25,151.10 317.00,150.90 C318.75,150.70 320.85,150.87 323.00,151.60 C325.15,152.33 329.73,154.13 329.90,155.30 C330.07,156.47 326.15,157.75 324.00,158.60 C321.85,159.45 319.00,160.15 317.00,160.40 C315.00,160.65 313.05,160.67 312.00,160.10 C310.95,159.53 310.62,158.22 310.70,157.00 Z" fill="#74d8f0" transform="translate(317.70 156.00) scale(0.42) translate(-317.70 -156.00)"/>
<path d="M310.70,157.00 C310.78,155.78 311.45,153.82 312.50,152.80 C313.55,151.78 315.25,151.10 317.00,150.90 C318.75,150.70 320.85,150.87 323.00,151.60 C325.15,152.33 329.73,154.13 329.90,155.30 C330.07,156.47 326.15,157.75 324.00,158.60 C321.85,159.45 319.00,160.15 317.00,160.40 C315.00,160.65 313.05,160.67 312.00,160.10 C310.95,159.53 310.62,158.22 310.70,157.00 Z" fill="#a8e070" transform="translate(317.70 156.00) scale(0.27) translate(-317.70 -156.00)"/>
<path d="M310.70,157.00 C310.78,155.78 311.45,153.82 312.50,152.80 C313.55,151.78 315.25,151.10 317.00,150.90 C318.75,150.70 320.85,150.87 323.00,151.60 C325.15,152.33 329.73,154.13 329.90,155.30 C330.07,156.47 326.15,157.75 324.00,158.60 C321.85,159.45 319.00,160.15 317.00,160.40 C315.00,160.65 313.05,160.67 312.00,160.10 C310.95,159.53 310.62,158.22 310.70,157.00 Z" fill="#4a9a20" transform="translate(317.70 156.00) scale(0.1) translate(-317.70 -156.00)"/>
</g>
<g filter="url(#bl)">
<path d="M381.90,156.00 C382.07,154.87 382.57,153.00 383.50,152.20 C384.43,151.40 386.17,151.15 387.50,151.20 C388.83,151.25 390.08,152.00 391.50,152.50 C392.92,153.00 394.25,154.05 396.00,154.20 C397.75,154.35 400.00,153.70 402.00,153.40 C404.00,153.10 406.08,152.40 408.00,152.40 C409.92,152.40 412.33,152.83 413.50,153.40 C414.67,153.97 415.08,154.97 415.00,155.80 C414.92,156.63 414.33,157.93 413.00,158.40 C411.67,158.87 409.17,158.67 407.00,158.60 C404.83,158.53 402.00,158.00 400.00,158.00 C398.00,158.00 396.50,158.22 395.00,158.60 C393.50,158.98 392.50,159.95 391.00,160.30 C389.50,160.65 387.42,160.92 386.00,160.70 C384.58,160.48 383.18,159.78 382.50,159.00 C381.82,158.22 381.73,157.13 381.90,156.00 Z" fill="#0e1b8c"/>
<path d="M383.10,156.00 C383.25,155.15 383.77,153.80 384.50,153.20 C385.23,152.60 386.42,152.33 387.50,152.40 C388.58,152.47 389.58,153.12 391.00,153.60 C392.42,154.08 394.17,155.15 396.00,155.30 C397.83,155.45 400.00,154.80 402.00,154.50 C404.00,154.20 406.23,153.53 408.00,153.50 C409.77,153.47 411.65,153.92 412.60,154.30 C413.55,154.68 413.77,155.28 413.70,155.80 C413.63,156.32 413.32,157.10 412.20,157.40 C411.08,157.70 409.03,157.67 407.00,157.60 C404.97,157.53 402.00,157.02 400.00,157.00 C398.00,156.98 396.50,157.13 395.00,157.50 C393.50,157.87 392.50,158.87 391.00,159.20 C389.50,159.53 387.23,159.65 386.00,159.50 C384.77,159.35 384.08,158.88 383.60,158.30 C383.12,157.72 382.95,156.85 383.10,156.00 Z" fill="#2145df"/>
<path d="M392.30,156.00 C392.30,156.50 392.08,157.07 391.72,157.50 C391.37,157.93 390.77,158.35 390.15,158.60 C389.53,158.85 388.72,159.00 388.00,159.00 C387.28,159.00 386.47,158.85 385.85,158.60 C385.23,158.35 384.63,157.93 384.28,157.50 C383.92,157.07 383.70,156.50 383.70,156.00 C383.70,155.50 383.92,154.93 384.28,154.50 C384.63,154.07 385.23,153.65 385.85,153.40 C386.47,153.15 387.28,153.00 388.00,153.00 C388.72,153.00 389.53,153.15 390.15,153.40 C390.77,153.65 391.37,154.07 391.72,154.50 C392.08,154.93 392.30,155.50 392.30,156.00 Z" fill="#4290f0"/>
<path d="M391.30,156.00 C391.30,156.40 391.13,156.85 390.84,157.20 C390.56,157.55 390.09,157.88 389.60,158.08 C389.11,158.28 388.47,158.40 387.90,158.40 C387.33,158.40 386.69,158.28 386.20,158.08 C385.71,157.88 385.24,157.55 384.96,157.20 C384.67,156.85 384.50,156.40 384.50,156.00 C384.50,155.60 384.67,155.15 384.96,154.80 C385.24,154.45 385.71,154.12 386.20,153.92 C386.69,153.72 387.33,153.60 387.90,153.60 C388.47,153.60 389.11,153.72 389.60,153.92 C390.09,154.12 390.56,154.45 390.84,154.80 C391.13,155.15 391.30,155.60 391.30,156.00 Z" fill="#74d8f0"/>
<path d="M390.00,156.00 C390.00,156.27 389.89,156.57 389.71,156.80 C389.52,157.03 389.22,157.25 388.90,157.39 C388.58,157.52 388.17,157.60 387.80,157.60 C387.43,157.60 387.02,157.52 386.70,157.39 C386.38,157.25 386.08,157.03 385.89,156.80 C385.71,156.57 385.60,156.27 385.60,156.00 C385.60,155.73 385.71,155.43 385.89,155.20 C386.08,154.97 386.38,154.75 386.70,154.61 C387.02,154.48 387.43,154.40 387.80,154.40 C388.17,154.40 388.58,154.48 388.90,154.61 C389.22,154.75 389.52,154.97 389.71,155.20 C389.89,155.43 390.00,155.73 390.00,156.00 Z" fill="#b2e466"/>
<path d="M388.70,156.00 C388.70,156.13 388.65,156.28 388.58,156.40 C388.50,156.52 388.38,156.63 388.25,156.69 C388.12,156.76 387.95,156.80 387.80,156.80 C387.65,156.80 387.48,156.76 387.35,156.69 C387.22,156.63 387.10,156.52 387.02,156.40 C386.95,156.28 386.90,156.13 386.90,156.00 C386.90,155.87 386.95,155.72 387.02,155.60 C387.10,155.48 387.22,155.37 387.35,155.31 C387.48,155.24 387.65,155.20 387.80,155.20 C387.95,155.20 388.12,155.24 388.25,155.31 C388.38,155.37 388.50,155.48 388.58,155.60 C388.65,155.72 388.70,155.87 388.70,156.00 Z" fill="#4a9a20"/>
<path d="M412.00,155.70 C412.00,155.97 411.85,156.27 411.60,156.50 C411.35,156.73 410.93,156.95 410.50,157.09 C410.07,157.22 409.50,157.30 409.00,157.30 C408.50,157.30 407.93,157.22 407.50,157.09 C407.07,156.95 406.65,156.73 406.40,156.50 C406.15,156.27 406.00,155.97 406.00,155.70 C406.00,155.43 406.15,155.13 406.40,154.90 C406.65,154.67 407.07,154.45 407.50,154.31 C407.93,154.18 408.50,154.10 409.00,154.10 C409.50,154.10 410.07,154.18 410.50,154.31 C410.93,154.45 411.35,154.67 411.60,154.90 C411.85,155.13 412.00,155.43 412.00,155.70 Z" fill="#3a6cec"/>
</g>
<g filter="url(#bl)">
<path d="M461.40,156.20 C461.40,156.97 461.14,157.84 460.70,158.50 C460.27,159.16 459.55,159.80 458.80,160.18 C458.05,160.57 457.07,160.80 456.20,160.80 C455.33,160.80 454.35,160.57 453.60,160.18 C452.85,159.80 452.13,159.16 451.70,158.50 C451.26,157.84 451.00,156.97 451.00,156.20 C451.00,155.43 451.26,154.56 451.70,153.90 C452.13,153.24 452.85,152.60 453.60,152.22 C454.35,151.83 455.33,151.60 456.20,151.60 C457.07,151.60 458.05,151.83 458.80,152.22 C459.55,152.60 460.27,153.24 460.70,153.90 C461.14,154.56 461.40,155.43 461.40,156.20 Z" fill="#0e1b8c"/>
<path d="M461.40,156.20 C461.40,156.97 461.14,157.84 460.70,158.50 C460.27,159.16 459.55,159.80 458.80,160.18 C458.05,160.57 457.07,160.80 456.20,160.80 C455.33,160.80 454.35,160.57 453.60,160.18 C452.85,159.80 452.13,159.16 451.70,158.50 C451.26,157.84 451.00,156.97 451.00,156.20 C451.00,155.43 451.26,154.56 451.70,153.90 C452.13,153.24 452.85,152.60 453.60,152.22 C454.35,151.83 455.33,151.60 456.20,151.60 C457.07,151.60 458.05,151.83 458.80,152.22 C459.55,152.60 460.27,153.24 460.70,153.90 C461.14,154.56 461.40,155.43 461.40,156.20 Z" fill="#2145df" transform="translate(456.20 156.30) scale(0.78) translate(-456.20 -156.30)"/>
<path d="M461.40,156.20 C461.40,156.97 461.14,157.84 460.70,158.50 C460.27,159.16 459.55,159.80 458.80,160.18 C458.05,160.57 457.07,160.80 456.20,160.80 C455.33,160.80 454.35,160.57 453.60,160.18 C452.85,159.80 452.13,159.16 451.70,158.50 C451.26,157.84 451.00,156.97 451.00,156.20 C451.00,155.43 451.26,154.56 451.70,153.90 C452.13,153.24 452.85,152.60 453.60,152.22 C454.35,151.83 455.33,151.60 456.20,151.60 C457.07,151.60 458.05,151.83 458.80,152.22 C459.55,152.60 460.27,153.24 460.70,153.90 C461.14,154.56 461.40,155.43 461.40,156.20 Z" fill="#74d8f0" transform="translate(456.20 156.30) scale(0.6) translate(-456.20 -156.30)"/>
<path d="M461.40,156.20 C461.40,156.97 461.14,157.84 460.70,158.50 C460.27,159.16 459.55,159.80 458.80,160.18 C458.05,160.57 457.07,160.80 456.20,160.80 C455.33,160.80 454.35,160.57 453.60,160.18 C452.85,159.80 452.13,159.16 451.70,158.50 C451.26,157.84 451.00,156.97 451.00,156.20 C451.00,155.43 451.26,154.56 451.70,153.90 C452.13,153.24 452.85,152.60 453.60,152.22 C454.35,151.83 455.33,151.60 456.20,151.60 C457.07,151.60 458.05,151.83 458.80,152.22 C459.55,152.60 460.27,153.24 460.70,153.90 C461.14,154.56 461.40,155.43 461.40,156.20 Z" fill="#a8e070" transform="translate(456.20 156.30) scale(0.38) translate(-456.20 -156.30)"/>
<path d="M461.40,156.20 C461.40,156.97 461.14,157.84 460.70,158.50 C460.27,159.16 459.55,159.80 458.80,160.18 C458.05,160.57 457.07,160.80 456.20,160.80 C455.33,160.80 454.35,160.57 453.60,160.18 C452.85,159.80 452.13,159.16 451.70,158.50 C451.26,157.84 451.00,156.97 451.00,156.20 C451.00,155.43 451.26,154.56 451.70,153.90 C452.13,153.24 452.85,152.60 453.60,152.22 C454.35,151.83 455.33,151.60 456.20,151.60 C457.07,151.60 458.05,151.83 458.80,152.22 C459.55,152.60 460.27,153.24 460.70,153.90 C461.14,154.56 461.40,155.43 461.40,156.20 Z" fill="#3c9a20" transform="translate(456.20 156.30) scale(0.16) translate(-456.20 -156.30)"/>
</g>
<rect x="307.20" y="29.30" width="63.70" height="63.80" stroke="#1c1c1c" stroke-width="1.3" fill="none"/>
<rect x="376.70" y="29.30" width="63.70" height="63.80" stroke="#1c1c1c" stroke-width="1.3" fill="none"/>
<rect x="446.00" y="29.30" width="63.70" height="63.80" stroke="#1c1c1c" stroke-width="1.3" fill="none"/>
<rect x="307.20" y="100.50" width="63.70" height="63.80" stroke="#1c1c1c" stroke-width="1.3" fill="none"/>
<rect x="376.70" y="100.50" width="63.70" height="63.80" stroke="#1c1c1c" stroke-width="1.3" fill="none"/>
<rect x="446.00" y="100.50" width="63.70" height="63.80" stroke="#1c1c1c" stroke-width="1.3" fill="none"/>
<line x1="54.50" y1="232.30" x2="54.50" y2="295.90" stroke="#1c1c1c" stroke-width="1.2"/>
<line x1="53.90" y1="295.30" x2="147.50" y2="295.30" stroke="#1c1c1c" stroke-width="1.2"/>
<line x1="51.30" y1="292.50" x2="54.50" y2="292.50" stroke="#1c1c1c" stroke-width="1.0"/>
<text x="48.90" y="294.80" font-size="6.6" text-anchor="end">0</text>
<line x1="51.30" y1="276.65" x2="54.50" y2="276.65" stroke="#1c1c1c" stroke-width="1.0"/>
<text x="48.90" y="278.95" font-size="6.6" text-anchor="end">100</text>
<line x1="51.30" y1="260.80" x2="54.50" y2="260.80" stroke="#1c1c1c" stroke-width="1.0"/>
<text x="48.90" y="263.10" font-size="6.6" text-anchor="end">200</text>
<line x1="51.30" y1="244.95" x2="54.50" y2="244.95" stroke="#1c1c1c" stroke-width="1.0"/>
<text x="48.90" y="247.25" font-size="6.6" text-anchor="end">300</text>
<line x1="54.80" y1="295.30" x2="54.80" y2="297.90" stroke="#1c1c1c" stroke-width="1.0"/>
<text x="54.80" y="307.90" font-size="6.6" text-anchor="middle">0</text>
<line x1="84.00" y1="295.30" x2="84.00" y2="297.90" stroke="#1c1c1c" stroke-width="1.0"/>
<text x="84.00" y="307.90" font-size="6.6" text-anchor="middle">20</text>
<line x1="113.20" y1="295.30" x2="113.20" y2="297.90" stroke="#1c1c1c" stroke-width="1.0"/>
<text x="113.20" y="307.90" font-size="6.6" text-anchor="middle">40</text>
<line x1="142.40" y1="295.30" x2="142.40" y2="297.90" stroke="#1c1c1c" stroke-width="1.0"/>
<text x="142.40" y="307.90" font-size="6.6" text-anchor="middle">60</text>
<text x="102.10" y="320.00" font-size="9.9" text-anchor="middle" textLength="83.80" lengthAdjust="spacingAndGlyphs">Days post T-cell infusion</text>
<path d="M54.80,292.50 L59.91,292.50 L65.02,275.86 L69.40,270.31 L75.24,265.87 L85.46,287.75 L95.68,288.06 L105.90,290.12 L116.12,291.23 L146.78,292.02" stroke="#7cb342" stroke-width="1.75" fill="none" stroke-linejoin="round"/>
<circle cx="54.80" cy="292.50" r="1.4" fill="#7cb342"/>
<circle cx="59.91" cy="292.50" r="1.4" fill="#7cb342"/>
<circle cx="65.02" cy="275.86" r="1.4" fill="#7cb342"/>
<circle cx="69.40" cy="270.31" r="1.4" fill="#7cb342"/>
<circle cx="75.24" cy="265.87" r="1.4" fill="#7cb342"/>
<circle cx="85.46" cy="287.75" r="1.4" fill="#7cb342"/>
<circle cx="95.68" cy="288.06" r="1.4" fill="#7cb342"/>
<circle cx="105.90" cy="290.12" r="1.4" fill="#7cb342"/>
<circle cx="116.12" cy="291.23" r="1.4" fill="#7cb342"/>
<circle cx="146.78" cy="292.02" r="1.4" fill="#7cb342"/>
<path d="M54.80,292.50 L59.91,292.50 L65.02,292.18 L69.40,262.38 L75.24,274.75 L85.46,290.92 L95.68,291.23 L105.90,291.23 L116.12,291.71 L146.78,292.02" stroke="#2b4673" stroke-width="1.75" fill="none" stroke-linejoin="round"/>
<circle cx="54.80" cy="292.50" r="1.4" fill="#2b4673"/>
<circle cx="59.91" cy="292.50" r="1.4" fill="#2b4673"/>
<circle cx="65.02" cy="292.18" r="1.4" fill="#2b4673"/>
<circle cx="69.40" cy="262.38" r="1.4" fill="#2b4673"/>
<circle cx="75.24" cy="274.75" r="1.4" fill="#2b4673"/>
<circle cx="85.46" cy="290.92" r="1.4" fill="#2b4673"/>
<circle cx="95.68" cy="291.23" r="1.4" fill="#2b4673"/>
<circle cx="105.90" cy="291.23" r="1.4" fill="#2b4673"/>
<circle cx="116.12" cy="291.71" r="1.4" fill="#2b4673"/>
<circle cx="146.78" cy="292.02" r="1.4" fill="#2b4673"/>
<path d="M54.80,292.50 L59.91,292.50 L65.02,292.18 L69.40,236.23 L75.24,282.51 L85.46,287.75 L95.68,288.54 L105.90,285.37 L116.12,290.60 L146.78,292.02" stroke="#37204f" stroke-width="1.75" fill="none" stroke-linejoin="round"/>
<circle cx="54.80" cy="292.50" r="1.4" fill="#37204f"/>
<circle cx="59.91" cy="292.50" r="1.4" fill="#37204f"/>
<circle cx="65.02" cy="292.18" r="1.4" fill="#37204f"/>
<circle cx="69.40" cy="236.23" r="1.4" fill="#37204f"/>
<circle cx="75.24" cy="282.51" r="1.4" fill="#37204f"/>
<circle cx="85.46" cy="287.75" r="1.4" fill="#37204f"/>
<circle cx="95.68" cy="288.54" r="1.4" fill="#37204f"/>
<circle cx="105.90" cy="285.37" r="1.4" fill="#37204f"/>
<circle cx="116.12" cy="290.60" r="1.4" fill="#37204f"/>
<circle cx="146.78" cy="292.02" r="1.4" fill="#37204f"/>
<path d="M54.80,292.50 L59.91,292.50 L65.02,291.71 L69.40,267.14 L75.24,254.46 L85.46,286.95 L95.68,290.92 L105.90,291.23 L116.12,291.71 L146.78,292.18" stroke="#a0163c" stroke-width="1.75" fill="none" stroke-linejoin="round"/>
<circle cx="54.80" cy="292.50" r="1.4" fill="#a0163c"/>
<circle cx="59.91" cy="292.50" r="1.4" fill="#a0163c"/>
<circle cx="65.02" cy="291.71" r="1.4" fill="#a0163c"/>
<circle cx="69.40" cy="267.14" r="1.4" fill="#a0163c"/>
<circle cx="75.24" cy="254.46" r="1.4" fill="#a0163c"/>
<circle cx="85.46" cy="286.95" r="1.4" fill="#a0163c"/>
<circle cx="95.68" cy="290.92" r="1.4" fill="#a0163c"/>
<circle cx="105.90" cy="291.23" r="1.4" fill="#a0163c"/>
<circle cx="116.12" cy="291.71" r="1.4" fill="#a0163c"/>
<circle cx="146.78" cy="292.18" r="1.4" fill="#a0163c"/>
<line x1="132.00" y1="236.70" x2="139.20" y2="236.70" stroke="#a0163c" stroke-width="1.5"/>
<circle cx="135.60" cy="236.70" r="1.2" fill="#a0163c"/>
<text x="142.40" y="239.10" font-size="6.8">1</text>
<line x1="132.00" y1="246.40" x2="139.20" y2="246.40" stroke="#2b4673" stroke-width="1.5"/>
<circle cx="135.60" cy="246.40" r="1.2" fill="#2b4673"/>
<text x="142.40" y="248.80" font-size="6.8">2</text>
<line x1="132.00" y1="256.10" x2="139.20" y2="256.10" stroke="#7cb342" stroke-width="1.5"/>
<circle cx="135.60" cy="256.10" r="1.2" fill="#7cb342"/>
<text x="142.40" y="258.50" font-size="6.8">3</text>
<line x1="132.00" y1="265.90" x2="139.20" y2="265.90" stroke="#37204f" stroke-width="1.5"/>
<circle cx="135.60" cy="265.90" r="1.2" fill="#37204f"/>
<text x="142.40" y="268.30" font-size="6.8">4</text>
<text x="75.70" y="238.8" font-size="6.3"><tspan font-style="italic">P</tspan> = 0.90</text>
<line x1="175.60" y1="232.30" x2="175.60" y2="295.90" stroke="#1c1c1c" stroke-width="1.2"/>
<line x1="175.00" y1="295.30" x2="268.60" y2="295.30" stroke="#1c1c1c" stroke-width="1.2"/>
<line x1="172.40" y1="292.50" x2="175.60" y2="292.50" stroke="#1c1c1c" stroke-width="1.0"/>
<text x="170.00" y="294.80" font-size="6.6" text-anchor="end">0</text>
<line x1="172.40" y1="276.65" x2="175.60" y2="276.65" stroke="#1c1c1c" stroke-width="1.0"/>
<text x="170.00" y="278.95" font-size="6.6" text-anchor="end">100</text>
<line x1="172.40" y1="260.80" x2="175.60" y2="260.80" stroke="#1c1c1c" stroke-width="1.0"/>
<text x="170.00" y="263.10" font-size="6.6" text-anchor="end">200</text>
<line x1="172.40" y1="244.95" x2="175.60" y2="244.95" stroke="#1c1c1c" stroke-width="1.0"/>
<text x="170.00" y="247.25" font-size="6.6" text-anchor="end">300</text>
<line x1="175.90" y1="295.30" x2="175.90" y2="297.90" stroke="#1c1c1c" stroke-width="1.0"/>
<text x="175.90" y="307.90" font-size="6.6" text-anchor="middle">0</text>
<line x1="205.10" y1="295.30" x2="205.10" y2="297.90" stroke="#1c1c1c" stroke-width="1.0"/>
<text x="205.10" y="307.90" font-size="6.6" text-anchor="middle">20</text>
<line x1="234.30" y1="295.30" x2="234.30" y2="297.90" stroke="#1c1c1c" stroke-width="1.0"/>
<text x="234.30" y="307.90" font-size="6.6" text-anchor="middle">40</text>
<line x1="263.50" y1="295.30" x2="263.50" y2="297.90" stroke="#1c1c1c" stroke-width="1.0"/>
<text x="263.50" y="307.90" font-size="6.6" text-anchor="middle">60</text>
<text x="223.20" y="320.00" font-size="9.9" text-anchor="middle" textLength="83.80" lengthAdjust="spacingAndGlyphs">Days post T-cell infusion</text>
<path d="M175.90,292.50 L181.01,292.50 L186.12,270.79 L190.50,260.80 L196.34,274.27 L206.56,288.54 L216.78,290.12 L227.00,290.92 L237.22,291.71 L267.88,292.18" stroke="#7cb342" stroke-width="1.75" fill="none" stroke-linejoin="round"/>
<circle cx="175.90" cy="292.50" r="1.4" fill="#7cb342"/>
<circle cx="181.01" cy="292.50" r="1.4" fill="#7cb342"/>
<circle cx="186.12" cy="270.79" r="1.4" fill="#7cb342"/>
<circle cx="190.50" cy="260.80" r="1.4" fill="#7cb342"/>
<circle cx="196.34" cy="274.27" r="1.4" fill="#7cb342"/>
<circle cx="206.56" cy="288.54" r="1.4" fill="#7cb342"/>
<circle cx="216.78" cy="290.12" r="1.4" fill="#7cb342"/>
<circle cx="227.00" cy="290.92" r="1.4" fill="#7cb342"/>
<circle cx="237.22" cy="291.71" r="1.4" fill="#7cb342"/>
<circle cx="267.88" cy="292.18" r="1.4" fill="#7cb342"/>
<path d="M175.90,292.50 L181.01,292.50 L186.12,292.18 L190.50,256.84 L196.34,280.30 L206.56,289.33 L216.78,290.60 L227.00,291.23 L237.22,291.71 L267.88,292.18" stroke="#2b4673" stroke-width="1.75" fill="none" stroke-linejoin="round"/>
<circle cx="175.90" cy="292.50" r="1.4" fill="#2b4673"/>
<circle cx="181.01" cy="292.50" r="1.4" fill="#2b4673"/>
<circle cx="186.12" cy="292.18" r="1.4" fill="#2b4673"/>
<circle cx="190.50" cy="256.84" r="1.4" fill="#2b4673"/>
<circle cx="196.34" cy="280.30" r="1.4" fill="#2b4673"/>
<circle cx="206.56" cy="289.33" r="1.4" fill="#2b4673"/>
<circle cx="216.78" cy="290.60" r="1.4" fill="#2b4673"/>
<circle cx="227.00" cy="291.23" r="1.4" fill="#2b4673"/>
<circle cx="237.22" cy="291.71" r="1.4" fill="#2b4673"/>
<circle cx="267.88" cy="292.18" r="1.4" fill="#2b4673"/>
<path d="M175.90,292.50 L181.01,292.50 L186.12,292.02 L190.50,260.80 L196.34,253.67 L206.56,286.79 L216.78,288.54 L227.00,290.12 L237.22,291.23 L267.88,292.18" stroke="#37204f" stroke-width="1.75" fill="none" stroke-linejoin="round"/>
<circle cx="175.90" cy="292.50" r="1.4" fill="#37204f"/>
<circle cx="181.01" cy="292.50" r="1.4" fill="#37204f"/>
<circle cx="186.12" cy="292.02" r="1.4" fill="#37204f"/>
<circle cx="190.50" cy="260.80" r="1.4" fill="#37204f"/>
<circle cx="196.34" cy="253.67" r="1.4" fill="#37204f"/>
<circle cx="206.56" cy="286.79" r="1.4" fill="#37204f"/>
<circle cx="216.78" cy="288.54" r="1.4" fill="#37204f"/>
<circle cx="227.00" cy="290.12" r="1.4" fill="#37204f"/>
<circle cx="237.22" cy="291.23" r="1.4" fill="#37204f"/>
<circle cx="267.88" cy="292.18" r="1.4" fill="#37204f"/>
<path d="M175.90,292.50 L181.01,292.50 L186.12,290.60 L190.50,277.92 L196.34,289.01 L206.56,290.12 L216.78,290.92 L227.00,291.71 L237.22,292.02 L267.88,292.18" stroke="#a0163c" stroke-width="1.75" fill="none" stroke-linejoin="round"/>
<circle cx="175.90" cy="292.50" r="1.4" fill="#a0163c"/>
<circle cx="181.01" cy="292.50" r="1.4" fill="#a0163c"/>
<circle cx="186.12" cy="290.60" r="1.4" fill="#a0163c"/>
<circle cx="190.50" cy="277.92" r="1.4" fill="#a0163c"/>
<circle cx="196.34" cy="289.01" r="1.4" fill="#a0163c"/>
<circle cx="206.56" cy="290.12" r="1.4" fill="#a0163c"/>
<circle cx="216.78" cy="290.92" r="1.4" fill="#a0163c"/>
<circle cx="227.00" cy="291.71" r="1.4" fill="#a0163c"/>
<circle cx="237.22" cy="292.02" r="1.4" fill="#a0163c"/>
<circle cx="267.88" cy="292.18" r="1.4" fill="#a0163c"/>
<line x1="237.50" y1="236.70" x2="244.70" y2="236.70" stroke="#a0163c" stroke-width="1.5"/>
<circle cx="241.10" cy="236.70" r="1.2" fill="#a0163c"/>
<text x="247.90" y="239.10" font-size="6.8">MRD-</text>
<line x1="237.50" y1="246.40" x2="244.70" y2="246.40" stroke="#2b4673" stroke-width="1.5"/>
<circle cx="241.10" cy="246.40" r="1.2" fill="#2b4673"/>
<text x="247.90" y="248.80" font-size="6.8">M1</text>
<line x1="237.50" y1="256.10" x2="244.70" y2="256.10" stroke="#7cb342" stroke-width="1.5"/>
<circle cx="241.10" cy="256.10" r="1.2" fill="#7cb342"/>
<text x="247.90" y="258.50" font-size="6.8">M2</text>
<line x1="237.50" y1="265.90" x2="244.70" y2="265.90" stroke="#37204f" stroke-width="1.5"/>
<circle cx="241.10" cy="265.90" r="1.2" fill="#37204f"/>
<text x="247.90" y="268.30" font-size="6.8">M3</text>
<text x="186.20" y="238.8" font-size="6.3"><tspan font-style="italic">P</tspan> = 0.12</text>
<line x1="296.20" y1="232.30" x2="296.20" y2="295.90" stroke="#1c1c1c" stroke-width="1.2"/>
<line x1="295.60" y1="295.30" x2="389.20" y2="295.30" stroke="#1c1c1c" stroke-width="1.2"/>
<line x1="293.00" y1="292.50" x2="296.20" y2="292.50" stroke="#1c1c1c" stroke-width="1.0"/>
<text x="290.60" y="294.80" font-size="6.6" text-anchor="end">0</text>
<line x1="293.00" y1="276.65" x2="296.20" y2="276.65" stroke="#1c1c1c" stroke-width="1.0"/>
<text x="290.60" y="278.95" font-size="6.6" text-anchor="end">100</text>
<line x1="293.00" y1="260.80" x2="296.20" y2="260.80" stroke="#1c1c1c" stroke-width="1.0"/>
<text x="290.60" y="263.10" font-size="6.6" text-anchor="end">200</text>
<line x1="293.00" y1="244.95" x2="296.20" y2="244.95" stroke="#1c1c1c" stroke-width="1.0"/>
<text x="290.60" y="247.25" font-size="6.6" text-anchor="end">300</text>
<line x1="296.50" y1="295.30" x2="296.50" y2="297.90" stroke="#1c1c1c" stroke-width="1.0"/>
<text x="296.50" y="307.90" font-size="6.6" text-anchor="middle">0</text>
<line x1="325.70" y1="295.30" x2="325.70" y2="297.90" stroke="#1c1c1c" stroke-width="1.0"/>
<text x="325.70" y="307.90" font-size="6.6" text-anchor="middle">20</text>
<line x1="354.90" y1="295.30" x2="354.90" y2="297.90" stroke="#1c1c1c" stroke-width="1.0"/>
<text x="354.90" y="307.90" font-size="6.6" text-anchor="middle">40</text>
<line x1="384.10" y1="295.30" x2="384.10" y2="297.90" stroke="#1c1c1c" stroke-width="1.0"/>
<text x="384.10" y="307.90" font-size="6.6" text-anchor="middle">60</text>
<text x="343.80" y="320.00" font-size="9.9" text-anchor="middle" textLength="83.80" lengthAdjust="spacingAndGlyphs">Days post T-cell infusion</text>
<path d="M296.50,292.50 L301.61,292.50 L306.72,288.54 L311.10,256.36 L316.94,257.95 L327.16,286.95 L337.38,289.01 L347.60,290.60 L357.82,291.71 L388.48,292.34" stroke="#2b4673" stroke-width="1.75" fill="none" stroke-linejoin="round"/>
<circle cx="296.50" cy="292.50" r="1.4" fill="#2b4673"/>
<circle cx="301.61" cy="292.50" r="1.4" fill="#2b4673"/>
<circle cx="306.72" cy="288.54" r="1.4" fill="#2b4673"/>
<circle cx="311.10" cy="256.36" r="1.4" fill="#2b4673"/>
<circle cx="316.94" cy="257.95" r="1.4" fill="#2b4673"/>
<circle cx="327.16" cy="286.95" r="1.4" fill="#2b4673"/>
<circle cx="337.38" cy="289.01" r="1.4" fill="#2b4673"/>
<circle cx="347.60" cy="290.60" r="1.4" fill="#2b4673"/>
<circle cx="357.82" cy="291.71" r="1.4" fill="#2b4673"/>
<circle cx="388.48" cy="292.34" r="1.4" fill="#2b4673"/>
<path d="M296.50,292.50 L301.61,292.98 L306.72,290.92 L311.10,276.65 L316.94,286.95 L327.16,291.71 L337.38,292.02 L347.60,292.18 L357.82,292.18 L388.48,292.34" stroke="#a0163c" stroke-width="1.75" fill="none" stroke-linejoin="round"/>
<circle cx="296.50" cy="292.50" r="1.4" fill="#a0163c"/>
<circle cx="301.61" cy="292.98" r="1.4" fill="#a0163c"/>
<circle cx="306.72" cy="290.92" r="1.4" fill="#a0163c"/>
<circle cx="311.10" cy="276.65" r="1.4" fill="#a0163c"/>
<circle cx="316.94" cy="286.95" r="1.4" fill="#a0163c"/>
<circle cx="327.16" cy="291.71" r="1.4" fill="#a0163c"/>
<circle cx="337.38" cy="292.02" r="1.4" fill="#a0163c"/>
<circle cx="347.60" cy="292.18" r="1.4" fill="#a0163c"/>
<circle cx="357.82" cy="292.18" r="1.4" fill="#a0163c"/>
<circle cx="388.48" cy="292.34" r="1.4" fill="#a0163c"/>
<line x1="358.00" y1="236.70" x2="365.20" y2="236.70" stroke="#a0163c" stroke-width="1.5"/>
<circle cx="361.60" cy="236.70" r="1.2" fill="#a0163c"/>
<text x="368.40" y="239.10" font-size="6.8">&#8804;15%</text>
<line x1="358.00" y1="246.40" x2="365.20" y2="246.40" stroke="#2b4673" stroke-width="1.5"/>
<circle cx="361.60" cy="246.40" r="1.2" fill="#2b4673"/>
<text x="368.40" y="248.80" font-size="6.8">&gt;15%</text>
<text x="305.70" y="238.8" font-size="6.3"><tspan font-style="italic">P</tspan> = 0.001</text>
<line x1="416.80" y1="232.30" x2="416.80" y2="295.90" stroke="#1c1c1c" stroke-width="1.2"/>
<line x1="416.20" y1="295.30" x2="509.80" y2="295.30" stroke="#1c1c1c" stroke-width="1.2"/>
<line x1="413.60" y1="292.50" x2="416.80" y2="292.50" stroke="#1c1c1c" stroke-width="1.0"/>
<text x="411.20" y="294.80" font-size="6.6" text-anchor="end">0</text>
<line x1="413.60" y1="276.65" x2="416.80" y2="276.65" stroke="#1c1c1c" stroke-width="1.0"/>
<text x="411.20" y="278.95" font-size="6.6" text-anchor="end">100</text>
<line x1="413.60" y1="260.80" x2="416.80" y2="260.80" stroke="#1c1c1c" stroke-width="1.0"/>
<text x="411.20" y="263.10" font-size="6.6" text-anchor="end">200</text>
<line x1="413.60" y1="244.95" x2="416.80" y2="244.95" stroke="#1c1c1c" stroke-width="1.0"/>
<text x="411.20" y="247.25" font-size="6.6" text-anchor="end">300</text>
<line x1="417.10" y1="295.30" x2="417.10" y2="297.90" stroke="#1c1c1c" stroke-width="1.0"/>
<text x="417.10" y="307.90" font-size="6.6" text-anchor="middle">0</text>
<line x1="446.30" y1="295.30" x2="446.30" y2="297.90" stroke="#1c1c1c" stroke-width="1.0"/>
<text x="446.30" y="307.90" font-size="6.6" text-anchor="middle">20</text>
<line x1="475.50" y1="295.30" x2="475.50" y2="297.90" stroke="#1c1c1c" stroke-width="1.0"/>
<text x="475.50" y="307.90" font-size="6.6" text-anchor="middle">40</text>
<line x1="504.70" y1="295.30" x2="504.70" y2="297.90" stroke="#1c1c1c" stroke-width="1.0"/>
<text x="504.70" y="307.90" font-size="6.6" text-anchor="middle">60</text>
<text x="464.40" y="320.00" font-size="9.9" text-anchor="middle" textLength="83.80" lengthAdjust="spacingAndGlyphs">Days post T-cell infusion</text>
<path d="M417.10,292.50 L422.21,292.50 L427.32,288.54 L431.70,266.82 L437.54,275.86 L447.76,290.60 L457.98,290.92 L468.20,291.23 L478.42,292.02 L509.08,292.34" stroke="#2b4673" stroke-width="1.75" fill="none" stroke-linejoin="round"/>
<circle cx="417.10" cy="292.50" r="1.4" fill="#2b4673"/>
<circle cx="422.21" cy="292.50" r="1.4" fill="#2b4673"/>
<circle cx="427.32" cy="288.54" r="1.4" fill="#2b4673"/>
<circle cx="431.70" cy="266.82" r="1.4" fill="#2b4673"/>
<circle cx="437.54" cy="275.86" r="1.4" fill="#2b4673"/>
<circle cx="447.76" cy="290.60" r="1.4" fill="#2b4673"/>
<circle cx="457.98" cy="290.92" r="1.4" fill="#2b4673"/>
<circle cx="468.20" cy="291.23" r="1.4" fill="#2b4673"/>
<circle cx="478.42" cy="292.02" r="1.4" fill="#2b4673"/>
<circle cx="509.08" cy="292.34" r="1.4" fill="#2b4673"/>
<path d="M417.10,292.50 L422.21,292.50 L427.32,292.02 L431.70,252.88 L437.54,250.50 L447.76,286.16 L457.98,290.12 L468.20,290.92 L478.42,292.02 L509.08,292.34" stroke="#a0163c" stroke-width="1.75" fill="none" stroke-linejoin="round"/>
<circle cx="417.10" cy="292.50" r="1.4" fill="#a0163c"/>
<circle cx="422.21" cy="292.50" r="1.4" fill="#a0163c"/>
<circle cx="427.32" cy="292.02" r="1.4" fill="#a0163c"/>
<circle cx="431.70" cy="252.88" r="1.4" fill="#a0163c"/>
<circle cx="437.54" cy="250.50" r="1.4" fill="#a0163c"/>
<circle cx="447.76" cy="286.16" r="1.4" fill="#a0163c"/>
<circle cx="457.98" cy="290.12" r="1.4" fill="#a0163c"/>
<circle cx="468.20" cy="290.92" r="1.4" fill="#a0163c"/>
<circle cx="478.42" cy="292.02" r="1.4" fill="#a0163c"/>
<circle cx="509.08" cy="292.34" r="1.4" fill="#a0163c"/>
<line x1="478.80" y1="236.70" x2="486.00" y2="236.70" stroke="#a0163c" stroke-width="1.5"/>
<circle cx="482.40" cy="236.70" r="1.2" fill="#a0163c"/>
<text x="489.20" y="239.10" font-size="6.8">Flu/cy</text>
<line x1="478.80" y1="246.40" x2="486.00" y2="246.40" stroke="#2b4673" stroke-width="1.5"/>
<circle cx="482.40" cy="246.40" r="1.2" fill="#2b4673"/>
<text x="489.20" y="248.80" font-size="6.8">Other</text>
<text x="425.80" y="238.8" font-size="6.3"><tspan font-style="italic">P</tspan> = 0.052</text>
<text x="22.40" y="263.90" font-size="7.9" text-anchor="middle" textLength="57.50" lengthAdjust="spacingAndGlyphs" transform="rotate(-90 22.40 263.90)" style="stroke-width:0.45px">Mean CAR T-cell</text>
<text x="31.00" y="263.80" font-size="7.9" text-anchor="middle" textLength="80.40" lengthAdjust="spacingAndGlyphs" transform="rotate(-90 31.00 263.80)" style="stroke-width:0.45px">concentration (cells/&#181;l)</text>
<line x1="54.50" y1="339.00" x2="54.50" y2="352.80" stroke="#1c1c1c" stroke-width="1.2"/>
<line x1="54.50" y1="357.40" x2="54.50" y2="405.30" stroke="#1c1c1c" stroke-width="1.2"/>
<path d="M53.00,352.40 L56.40,355.50" stroke="#1c1c1c" stroke-width="1.1" fill="none"/>
<path d="M53.00,356.40 L56.40,359.50" stroke="#1c1c1c" stroke-width="1.1" fill="none"/>
<line x1="53.90" y1="405.30" x2="150.50" y2="405.30" stroke="#1c1c1c" stroke-width="1.2"/>
<line x1="51.30" y1="405.30" x2="54.50" y2="405.30" stroke="#1c1c1c" stroke-width="1.0"/>
<text x="48.90" y="407.50" font-size="6.3" text-anchor="end">0</text>
<line x1="51.30" y1="390.57" x2="54.50" y2="390.57" stroke="#1c1c1c" stroke-width="1.0"/>
<text x="48.90" y="392.77" font-size="6.3" text-anchor="end">500</text>
<line x1="51.30" y1="375.84" x2="54.50" y2="375.84" stroke="#1c1c1c" stroke-width="1.0"/>
<text x="48.90" y="378.04" font-size="6.3" text-anchor="end">1000</text>
<line x1="51.30" y1="361.11" x2="54.50" y2="361.11" stroke="#1c1c1c" stroke-width="1.0"/>
<text x="48.90" y="363.31" font-size="6.3" text-anchor="end">1500</text>
<line x1="51.30" y1="347.90" x2="54.50" y2="347.90" stroke="#1c1c1c" stroke-width="1.0"/>
<text x="48.90" y="350.10" font-size="6.3" text-anchor="end">10000</text>
<line x1="51.30" y1="341.70" x2="54.50" y2="341.70" stroke="#1c1c1c" stroke-width="1.0"/>
<text x="48.90" y="343.90" font-size="6.3" text-anchor="end">15000</text>
<line x1="69.60" y1="405.30" x2="69.60" y2="407.50" stroke="#1c1c1c" stroke-width="0.9"/>
<text x="69.60" y="414.40" font-size="6.3" text-anchor="middle">1</text>
<line x1="91.60" y1="405.30" x2="91.60" y2="407.50" stroke="#1c1c1c" stroke-width="0.9"/>
<text x="91.60" y="414.40" font-size="6.3" text-anchor="middle">2</text>
<line x1="113.70" y1="405.30" x2="113.70" y2="407.50" stroke="#1c1c1c" stroke-width="0.9"/>
<text x="113.70" y="414.40" font-size="6.3" text-anchor="middle">3</text>
<line x1="135.60" y1="405.30" x2="135.60" y2="407.50" stroke="#1c1c1c" stroke-width="0.9"/>
<text x="135.60" y="414.40" font-size="6.3" text-anchor="middle">4</text>
<text x="102.90" y="426.40" font-size="9.7" text-anchor="middle" textLength="34.20" lengthAdjust="spacingAndGlyphs">Dose level</text>
<text x="101.30" y="345.6" font-size="6.3"><tspan font-style="italic">P</tspan> = 0.80</text>
<line x1="175.60" y1="339.00" x2="175.60" y2="352.80" stroke="#1c1c1c" stroke-width="1.2"/>
<line x1="175.60" y1="357.40" x2="175.60" y2="405.30" stroke="#1c1c1c" stroke-width="1.2"/>
<path d="M174.10,352.40 L177.50,355.50" stroke="#1c1c1c" stroke-width="1.1" fill="none"/>
<path d="M174.10,356.40 L177.50,359.50" stroke="#1c1c1c" stroke-width="1.1" fill="none"/>
<line x1="175.00" y1="405.30" x2="271.60" y2="405.30" stroke="#1c1c1c" stroke-width="1.2"/>
<line x1="172.40" y1="405.30" x2="175.60" y2="405.30" stroke="#1c1c1c" stroke-width="1.0"/>
<text x="170.00" y="407.50" font-size="6.3" text-anchor="end">0</text>
<line x1="172.40" y1="390.57" x2="175.60" y2="390.57" stroke="#1c1c1c" stroke-width="1.0"/>
<text x="170.00" y="392.77" font-size="6.3" text-anchor="end">500</text>
<line x1="172.40" y1="375.84" x2="175.60" y2="375.84" stroke="#1c1c1c" stroke-width="1.0"/>
<text x="170.00" y="378.04" font-size="6.3" text-anchor="end">1000</text>
<line x1="172.40" y1="361.11" x2="175.60" y2="361.11" stroke="#1c1c1c" stroke-width="1.0"/>
<text x="170.00" y="363.31" font-size="6.3" text-anchor="end">1500</text>
<line x1="172.40" y1="347.90" x2="175.60" y2="347.90" stroke="#1c1c1c" stroke-width="1.0"/>
<text x="170.00" y="350.10" font-size="6.3" text-anchor="end">10000</text>
<line x1="172.40" y1="341.70" x2="175.60" y2="341.70" stroke="#1c1c1c" stroke-width="1.0"/>
<text x="170.00" y="343.90" font-size="6.3" text-anchor="end">15000</text>
<line x1="190.00" y1="405.30" x2="190.00" y2="407.50" stroke="#1c1c1c" stroke-width="0.9"/>
<text x="190.00" y="414.40" font-size="6.3" text-anchor="middle">MRD-</text>
<line x1="212.00" y1="405.30" x2="212.00" y2="407.50" stroke="#1c1c1c" stroke-width="0.9"/>
<text x="212.00" y="414.40" font-size="6.3" text-anchor="middle">M1</text>
<line x1="233.90" y1="405.30" x2="233.90" y2="407.50" stroke="#1c1c1c" stroke-width="0.9"/>
<text x="233.90" y="414.40" font-size="6.3" text-anchor="middle">M2</text>
<line x1="255.90" y1="405.30" x2="255.90" y2="407.50" stroke="#1c1c1c" stroke-width="0.9"/>
<text x="255.90" y="414.40" font-size="6.3" text-anchor="middle">M3</text>
<text x="223.30" y="426.40" font-size="9.7" text-anchor="middle" textLength="51.80" lengthAdjust="spacingAndGlyphs">Disease burden</text>
<text x="213.80" y="345.6" font-size="6.3"><tspan font-style="italic">P</tspan> = 0.14</text>
<line x1="296.20" y1="339.00" x2="296.20" y2="352.80" stroke="#1c1c1c" stroke-width="1.2"/>
<line x1="296.20" y1="357.40" x2="296.20" y2="405.30" stroke="#1c1c1c" stroke-width="1.2"/>
<path d="M294.70,352.40 L298.10,355.50" stroke="#1c1c1c" stroke-width="1.1" fill="none"/>
<path d="M294.70,356.40 L298.10,359.50" stroke="#1c1c1c" stroke-width="1.1" fill="none"/>
<line x1="295.60" y1="405.30" x2="392.20" y2="405.30" stroke="#1c1c1c" stroke-width="1.2"/>
<line x1="293.00" y1="405.30" x2="296.20" y2="405.30" stroke="#1c1c1c" stroke-width="1.0"/>
<text x="290.60" y="407.50" font-size="6.3" text-anchor="end">0</text>
<line x1="293.00" y1="390.57" x2="296.20" y2="390.57" stroke="#1c1c1c" stroke-width="1.0"/>
<text x="290.60" y="392.77" font-size="6.3" text-anchor="end">500</text>
<line x1="293.00" y1="375.84" x2="296.20" y2="375.84" stroke="#1c1c1c" stroke-width="1.0"/>
<text x="290.60" y="378.04" font-size="6.3" text-anchor="end">1000</text>
<line x1="293.00" y1="361.11" x2="296.20" y2="361.11" stroke="#1c1c1c" stroke-width="1.0"/>
<text x="290.60" y="363.31" font-size="6.3" text-anchor="end">1500</text>
<line x1="293.00" y1="347.90" x2="296.20" y2="347.90" stroke="#1c1c1c" stroke-width="1.0"/>
<text x="290.60" y="350.10" font-size="6.3" text-anchor="end">10000</text>
<line x1="293.00" y1="341.70" x2="296.20" y2="341.70" stroke="#1c1c1c" stroke-width="1.0"/>
<text x="290.60" y="343.90" font-size="6.3" text-anchor="end">15000</text>
<line x1="323.40" y1="405.30" x2="323.40" y2="407.50" stroke="#1c1c1c" stroke-width="0.9"/>
<text x="323.40" y="414.40" font-size="6.3" text-anchor="middle">&#8804;15%</text>
<line x1="364.00" y1="405.30" x2="364.00" y2="407.50" stroke="#1c1c1c" stroke-width="0.9"/>
<text x="364.00" y="414.40" font-size="6.3" text-anchor="middle">&gt;15%</text>
<text x="344.00" y="426.40" font-size="9.7" text-anchor="middle" textLength="44.50" lengthAdjust="spacingAndGlyphs">CD19 burden</text>
<text x="310.00" y="345.6" font-size="6.3"><tspan font-style="italic">P</tspan> = 0.0028</text>
<line x1="416.80" y1="339.00" x2="416.80" y2="352.80" stroke="#1c1c1c" stroke-width="1.2"/>
<line x1="416.80" y1="357.40" x2="416.80" y2="405.30" stroke="#1c1c1c" stroke-width="1.2"/>
<path d="M415.30,352.40 L418.70,355.50" stroke="#1c1c1c" stroke-width="1.1" fill="none"/>
<path d="M415.30,356.40 L418.70,359.50" stroke="#1c1c1c" stroke-width="1.1" fill="none"/>
<line x1="416.20" y1="405.30" x2="512.80" y2="405.30" stroke="#1c1c1c" stroke-width="1.2"/>
<line x1="413.60" y1="405.30" x2="416.80" y2="405.30" stroke="#1c1c1c" stroke-width="1.0"/>
<text x="411.20" y="407.50" font-size="6.3" text-anchor="end">0</text>
<line x1="413.60" y1="390.57" x2="416.80" y2="390.57" stroke="#1c1c1c" stroke-width="1.0"/>
<text x="411.20" y="392.77" font-size="6.3" text-anchor="end">500</text>
<line x1="413.60" y1="375.84" x2="416.80" y2="375.84" stroke="#1c1c1c" stroke-width="1.0"/>
<text x="411.20" y="378.04" font-size="6.3" text-anchor="end">1000</text>
<line x1="413.60" y1="361.11" x2="416.80" y2="361.11" stroke="#1c1c1c" stroke-width="1.0"/>
<text x="411.20" y="363.31" font-size="6.3" text-anchor="end">1500</text>
<line x1="413.60" y1="347.90" x2="416.80" y2="347.90" stroke="#1c1c1c" stroke-width="1.0"/>
<text x="411.20" y="350.10" font-size="6.3" text-anchor="end">10000</text>
<line x1="413.60" y1="341.70" x2="416.80" y2="341.70" stroke="#1c1c1c" stroke-width="1.0"/>
<text x="411.20" y="343.90" font-size="6.3" text-anchor="end">15000</text>
<line x1="444.30" y1="405.30" x2="444.30" y2="407.50" stroke="#1c1c1c" stroke-width="0.9"/>
<text x="444.30" y="414.40" font-size="6.3" text-anchor="middle">Flu/cy</text>
<line x1="485.30" y1="405.30" x2="485.30" y2="407.50" stroke="#1c1c1c" stroke-width="0.9"/>
<text x="485.30" y="414.40" font-size="6.3" text-anchor="middle">Others</text>
<text x="464.70" y="426.40" font-size="9.7" text-anchor="middle" textLength="42.40" lengthAdjust="spacingAndGlyphs">Conditioning</text>
<text x="451.30" y="345.6" font-size="6.3"><tspan font-style="italic">P</tspan> = 0.025</text>
<text x="15.20" y="371.70" font-size="7.9" text-anchor="middle" textLength="54.60" lengthAdjust="spacingAndGlyphs" transform="rotate(-90 15.20 371.70)" style="stroke-width:0.45px">Peak CAR T-cell</text>
<text x="24.60" y="372.00" font-size="7.9" text-anchor="middle" textLength="78.30" lengthAdjust="spacingAndGlyphs" transform="rotate(-90 24.60 372.00)" style="stroke-width:0.45px">concentration (cells/&#181;l)</text>
<circle cx="69.60" cy="362.90" r="1.3" fill="#a0163c"/>
<circle cx="69.60" cy="367.10" r="1.3" fill="#a0163c"/>
<circle cx="69.60" cy="379.00" r="1.3" fill="#a0163c"/>
<circle cx="69.20" cy="394.60" r="1.3" fill="#a0163c"/>
<circle cx="67.30" cy="398.50" r="1.3" fill="#a0163c"/>
<circle cx="71.50" cy="398.80" r="1.3" fill="#a0163c"/>
<circle cx="63.50" cy="401.50" r="1.3" fill="#a0163c"/>
<circle cx="66.30" cy="401.50" r="1.3" fill="#a0163c"/>
<circle cx="69.20" cy="401.50" r="1.3" fill="#a0163c"/>
<circle cx="72.20" cy="401.50" r="1.3" fill="#a0163c"/>
<circle cx="75.00" cy="401.50" r="1.3" fill="#a0163c"/>
<circle cx="65.00" cy="403.40" r="1.3" fill="#a0163c"/>
<circle cx="68.00" cy="403.40" r="1.3" fill="#a0163c"/>
<circle cx="71.00" cy="403.40" r="1.3" fill="#a0163c"/>
<circle cx="73.80" cy="403.40" r="1.3" fill="#a0163c"/>
<circle cx="67.00" cy="404.60" r="1.3" fill="#a0163c"/>
<circle cx="70.50" cy="404.60" r="1.3" fill="#a0163c"/>
<line x1="69.60" y1="386.90" x2="69.60" y2="403.50" stroke="#a0163c" stroke-width="1.0"/>
<line x1="65.80" y1="386.90" x2="73.10" y2="386.90" stroke="#a0163c" stroke-width="1.1"/>
<line x1="62.70" y1="400.80" x2="75.80" y2="400.80" stroke="#a0163c" stroke-width="1.2"/>
<circle cx="91.50" cy="347.90" r="1.3" fill="#2b4673"/>
<circle cx="91.50" cy="383.70" r="1.3" fill="#2b4673"/>
<circle cx="88.80" cy="391.90" r="1.3" fill="#2b4673"/>
<circle cx="93.10" cy="392.70" r="1.3" fill="#2b4673"/>
<circle cx="95.40" cy="395.80" r="1.3" fill="#2b4673"/>
<circle cx="90.80" cy="396.50" r="1.3" fill="#2b4673"/>
<circle cx="86.90" cy="399.60" r="1.3" fill="#2b4673"/>
<circle cx="94.20" cy="399.60" r="1.3" fill="#2b4673"/>
<circle cx="86.20" cy="402.70" r="1.3" fill="#2b4673"/>
<circle cx="89.00" cy="402.70" r="1.3" fill="#2b4673"/>
<circle cx="91.80" cy="402.70" r="1.3" fill="#2b4673"/>
<circle cx="94.60" cy="402.70" r="1.3" fill="#2b4673"/>
<circle cx="97.50" cy="402.70" r="1.3" fill="#2b4673"/>
<circle cx="88.50" cy="404.40" r="1.3" fill="#2b4673"/>
<circle cx="91.50" cy="404.40" r="1.3" fill="#2b4673"/>
<circle cx="94.50" cy="404.40" r="1.3" fill="#2b4673"/>
<line x1="91.60" y1="391.50" x2="91.60" y2="403.00" stroke="#2b4673" stroke-width="1.0"/>
<line x1="88.00" y1="391.50" x2="95.00" y2="391.50" stroke="#2b4673" stroke-width="1.1"/>
<line x1="84.20" y1="398.80" x2="98.50" y2="398.80" stroke="#2b4673" stroke-width="1.2"/>
<circle cx="113.70" cy="386.80" r="1.3" fill="#7cb342"/>
<circle cx="110.00" cy="391.30" r="1.3" fill="#7cb342"/>
<circle cx="117.50" cy="391.30" r="1.3" fill="#7cb342"/>
<circle cx="109.60" cy="401.00" r="1.3" fill="#7cb342"/>
<circle cx="113.70" cy="404.50" r="1.3" fill="#7cb342"/>
<circle cx="117.40" cy="403.20" r="1.3" fill="#7cb342"/>
<line x1="113.70" y1="391.30" x2="113.70" y2="404.50" stroke="#7cb342" stroke-width="1.0"/>
<line x1="106.30" y1="391.30" x2="120.70" y2="391.30" stroke="#7cb342" stroke-width="1.2"/>
<circle cx="135.60" cy="360.80" r="1.3" fill="#37204f"/>
<circle cx="133.40" cy="397.80" r="1.3" fill="#37204f"/>
<circle cx="137.20" cy="400.80" r="1.3" fill="#37204f"/>
<circle cx="133.50" cy="405.00" r="1.3" fill="#37204f"/>
<circle cx="137.50" cy="405.00" r="1.3" fill="#37204f"/>
<line x1="135.60" y1="379.30" x2="135.60" y2="404.50" stroke="#37204f" stroke-width="1.0"/>
<line x1="131.70" y1="379.30" x2="139.40" y2="379.30" stroke="#37204f" stroke-width="1.1"/>
<line x1="128.20" y1="400.80" x2="142.60" y2="400.80" stroke="#37204f" stroke-width="1.2"/>
<circle cx="189.60" cy="391.50" r="1.3" fill="#a0163c"/>
<circle cx="184.20" cy="401.20" r="1.3" fill="#a0163c"/>
<circle cx="187.30" cy="401.20" r="1.3" fill="#a0163c"/>
<circle cx="190.00" cy="401.20" r="1.3" fill="#a0163c"/>
<circle cx="192.70" cy="401.20" r="1.3" fill="#a0163c"/>
<circle cx="195.40" cy="401.20" r="1.3" fill="#a0163c"/>
<circle cx="185.50" cy="403.10" r="1.3" fill="#a0163c"/>
<circle cx="188.50" cy="403.10" r="1.3" fill="#a0163c"/>
<circle cx="191.50" cy="403.10" r="1.3" fill="#a0163c"/>
<circle cx="194.50" cy="403.10" r="1.3" fill="#a0163c"/>
<circle cx="188.00" cy="404.60" r="1.3" fill="#a0163c"/>
<circle cx="192.00" cy="404.60" r="1.3" fill="#a0163c"/>
<line x1="190.00" y1="400.00" x2="190.00" y2="403.50" stroke="#a0163c" stroke-width="1.0"/>
<line x1="187.30" y1="400.00" x2="192.30" y2="400.00" stroke="#a0163c" stroke-width="1.1"/>
<line x1="183.50" y1="402.30" x2="196.50" y2="402.30" stroke="#a0163c" stroke-width="1.2"/>
<circle cx="211.70" cy="367.20" r="1.3" fill="#2b4673"/>
<circle cx="205.40" cy="398.80" r="1.3" fill="#2b4673"/>
<circle cx="208.10" cy="398.80" r="1.3" fill="#2b4673"/>
<circle cx="210.80" cy="398.80" r="1.3" fill="#2b4673"/>
<circle cx="213.80" cy="398.80" r="1.3" fill="#2b4673"/>
<circle cx="217.30" cy="398.80" r="1.3" fill="#2b4673"/>
<circle cx="212.70" cy="401.20" r="1.3" fill="#2b4673"/>
<circle cx="206.90" cy="403.50" r="1.3" fill="#2b4673"/>
<circle cx="210.40" cy="403.50" r="1.3" fill="#2b4673"/>
<circle cx="213.80" cy="403.50" r="1.3" fill="#2b4673"/>
<circle cx="216.20" cy="403.50" r="1.3" fill="#2b4673"/>
<line x1="212.00" y1="398.50" x2="212.00" y2="403.50" stroke="#2b4673" stroke-width="1.0"/>
<line x1="205.00" y1="398.80" x2="219.00" y2="398.80" stroke="#2b4673" stroke-width="1.2"/>
<circle cx="234.00" cy="386.60" r="1.3" fill="#7cb342"/>
<circle cx="232.60" cy="389.70" r="1.3" fill="#7cb342"/>
<circle cx="235.40" cy="390.20" r="1.3" fill="#7cb342"/>
<circle cx="234.00" cy="392.90" r="1.3" fill="#7cb342"/>
<circle cx="231.70" cy="397.10" r="1.3" fill="#7cb342"/>
<circle cx="236.30" cy="396.60" r="1.3" fill="#7cb342"/>
<circle cx="234.00" cy="398.50" r="1.3" fill="#7cb342"/>
<circle cx="234.00" cy="401.70" r="1.3" fill="#7cb342"/>
<line x1="233.90" y1="389.20" x2="233.90" y2="398.00" stroke="#7cb342" stroke-width="1.0"/>
<line x1="230.50" y1="389.20" x2="237.50" y2="389.20" stroke="#7cb342" stroke-width="1.1"/>
<line x1="227.10" y1="396.20" x2="240.90" y2="396.20" stroke="#7cb342" stroke-width="1.2"/>
<circle cx="257.50" cy="347.90" r="1.3" fill="#37204f"/>
<circle cx="258.20" cy="360.50" r="1.3" fill="#37204f"/>
<circle cx="254.00" cy="362.70" r="1.3" fill="#37204f"/>
<circle cx="256.00" cy="378.70" r="1.3" fill="#37204f"/>
<circle cx="256.20" cy="383.70" r="1.3" fill="#37204f"/>
<circle cx="250.20" cy="391.50" r="1.3" fill="#37204f"/>
<circle cx="259.90" cy="390.20" r="1.3" fill="#37204f"/>
<circle cx="256.20" cy="392.00" r="1.3" fill="#37204f"/>
<circle cx="252.00" cy="394.80" r="1.3" fill="#37204f"/>
<circle cx="259.90" cy="395.70" r="1.3" fill="#37204f"/>
<circle cx="250.20" cy="398.80" r="1.3" fill="#37204f"/>
<circle cx="253.90" cy="398.80" r="1.3" fill="#37204f"/>
<circle cx="258.00" cy="398.80" r="1.3" fill="#37204f"/>
<circle cx="261.70" cy="398.80" r="1.3" fill="#37204f"/>
<circle cx="250.20" cy="401.80" r="1.3" fill="#37204f"/>
<circle cx="254.80" cy="401.80" r="1.3" fill="#37204f"/>
<circle cx="258.90" cy="401.80" r="1.3" fill="#37204f"/>
<circle cx="262.20" cy="401.80" r="1.3" fill="#37204f"/>
<circle cx="251.50" cy="403.90" r="1.3" fill="#37204f"/>
<circle cx="255.00" cy="403.90" r="1.3" fill="#37204f"/>
<circle cx="258.50" cy="403.90" r="1.3" fill="#37204f"/>
<line x1="255.90" y1="388.80" x2="255.90" y2="402.00" stroke="#37204f" stroke-width="1.0"/>
<line x1="253.40" y1="388.80" x2="258.90" y2="388.80" stroke="#37204f" stroke-width="1.1"/>
<line x1="248.50" y1="397.10" x2="263.30" y2="397.10" stroke="#37204f" stroke-width="1.2"/>
<circle cx="323.20" cy="393.30" r="1.3" fill="#a0163c"/>
<circle cx="317.30" cy="398.20" r="1.3" fill="#a0163c"/>
<circle cx="328.80" cy="398.80" r="1.3" fill="#a0163c"/>
<circle cx="310.80" cy="401.50" r="1.3" fill="#a0163c"/>
<circle cx="314.30" cy="401.50" r="1.3" fill="#a0163c"/>
<circle cx="317.90" cy="401.50" r="1.3" fill="#a0163c"/>
<circle cx="321.40" cy="401.50" r="1.3" fill="#a0163c"/>
<circle cx="325.00" cy="401.50" r="1.3" fill="#a0163c"/>
<circle cx="328.50" cy="401.50" r="1.3" fill="#a0163c"/>
<circle cx="332.00" cy="401.50" r="1.3" fill="#a0163c"/>
<circle cx="335.40" cy="401.50" r="1.3" fill="#a0163c"/>
<circle cx="313.00" cy="403.80" r="1.3" fill="#a0163c"/>
<circle cx="316.50" cy="403.80" r="1.3" fill="#a0163c"/>
<circle cx="320.00" cy="403.80" r="1.3" fill="#a0163c"/>
<circle cx="323.50" cy="403.80" r="1.3" fill="#a0163c"/>
<circle cx="327.00" cy="403.80" r="1.3" fill="#a0163c"/>
<circle cx="330.50" cy="403.80" r="1.3" fill="#a0163c"/>
<circle cx="334.00" cy="403.80" r="1.3" fill="#a0163c"/>
<line x1="323.40" y1="400.00" x2="323.40" y2="403.50" stroke="#a0163c" stroke-width="1.0"/>
<line x1="319.20" y1="400.00" x2="327.30" y2="400.00" stroke="#a0163c" stroke-width="1.1"/>
<line x1="310.00" y1="400.80" x2="336.50" y2="400.80" stroke="#a0163c" stroke-width="1.2"/>
<circle cx="364.00" cy="347.30" r="1.3" fill="#2b4673"/>
<circle cx="361.50" cy="360.20" r="1.3" fill="#2b4673"/>
<circle cx="366.00" cy="362.50" r="1.3" fill="#2b4673"/>
<circle cx="364.00" cy="366.60" r="1.3" fill="#2b4673"/>
<circle cx="364.00" cy="378.90" r="1.3" fill="#2b4673"/>
<circle cx="366.20" cy="383.80" r="1.3" fill="#2b4673"/>
<circle cx="362.30" cy="386.90" r="1.3" fill="#2b4673"/>
<circle cx="371.50" cy="390.00" r="1.3" fill="#2b4673"/>
<circle cx="354.20" cy="391.20" r="1.3" fill="#2b4673"/>
<circle cx="358.50" cy="391.50" r="1.3" fill="#2b4673"/>
<circle cx="363.80" cy="392.30" r="1.3" fill="#2b4673"/>
<circle cx="367.70" cy="391.50" r="1.3" fill="#2b4673"/>
<circle cx="360.40" cy="394.60" r="1.3" fill="#2b4673"/>
<circle cx="369.60" cy="395.80" r="1.3" fill="#2b4673"/>
<circle cx="350.40" cy="398.10" r="1.3" fill="#2b4673"/>
<circle cx="356.20" cy="398.80" r="1.3" fill="#2b4673"/>
<circle cx="360.40" cy="399.60" r="1.3" fill="#2b4673"/>
<circle cx="363.80" cy="399.20" r="1.3" fill="#2b4673"/>
<circle cx="367.70" cy="399.60" r="1.3" fill="#2b4673"/>
<circle cx="371.90" cy="398.10" r="1.3" fill="#2b4673"/>
<circle cx="375.80" cy="398.10" r="1.3" fill="#2b4673"/>
<circle cx="352.30" cy="401.90" r="1.3" fill="#2b4673"/>
<circle cx="355.80" cy="402.70" r="1.3" fill="#2b4673"/>
<circle cx="375.80" cy="402.70" r="1.3" fill="#2b4673"/>
<circle cx="359.20" cy="404.50" r="1.3" fill="#2b4673"/>
<circle cx="361.90" cy="404.50" r="1.3" fill="#2b4673"/>
<circle cx="364.60" cy="404.50" r="1.3" fill="#2b4673"/>
<circle cx="367.30" cy="404.50" r="1.3" fill="#2b4673"/>
<circle cx="370.00" cy="404.50" r="1.3" fill="#2b4673"/>
<line x1="364.00" y1="388.10" x2="364.00" y2="401.50" stroke="#2b4673" stroke-width="1.0"/>
<line x1="357.30" y1="388.10" x2="370.80" y2="388.10" stroke="#2b4673" stroke-width="1.1"/>
<line x1="350.00" y1="396.50" x2="378.50" y2="396.50" stroke="#2b4673" stroke-width="1.2"/>
<circle cx="444.30" cy="347.30" r="1.3" fill="#a0163c"/>
<circle cx="444.30" cy="362.90" r="1.3" fill="#a0163c"/>
<circle cx="444.30" cy="379.20" r="1.3" fill="#a0163c"/>
<circle cx="440.10" cy="390.40" r="1.3" fill="#a0163c"/>
<circle cx="447.90" cy="391.70" r="1.3" fill="#a0163c"/>
<circle cx="438.50" cy="395.30" r="1.3" fill="#a0163c"/>
<circle cx="449.90" cy="396.20" r="1.3" fill="#a0163c"/>
<circle cx="442.00" cy="397.90" r="1.3" fill="#a0163c"/>
<circle cx="445.60" cy="398.20" r="1.3" fill="#a0163c"/>
<circle cx="439.80" cy="403.10" r="1.3" fill="#a0163c"/>
<circle cx="441.10" cy="404.70" r="1.3" fill="#a0163c"/>
<circle cx="444.30" cy="404.70" r="1.3" fill="#a0163c"/>
<circle cx="448.30" cy="404.70" r="1.3" fill="#a0163c"/>
<line x1="444.30" y1="382.80" x2="444.30" y2="399.50" stroke="#a0163c" stroke-width="1.0"/>
<line x1="437.50" y1="382.80" x2="451.20" y2="382.80" stroke="#a0163c" stroke-width="1.1"/>
<line x1="430.60" y1="394.30" x2="458.10" y2="394.30" stroke="#a0163c" stroke-width="1.2"/>
<circle cx="485.30" cy="360.50" r="1.3" fill="#2b4673"/>
<circle cx="485.30" cy="367.40" r="1.3" fill="#2b4673"/>
<circle cx="485.20" cy="386.90" r="1.3" fill="#2b4673"/>
<circle cx="481.00" cy="391.50" r="1.3" fill="#2b4673"/>
<circle cx="485.20" cy="392.30" r="1.3" fill="#2b4673"/>
<circle cx="489.10" cy="391.20" r="1.3" fill="#2b4673"/>
<circle cx="472.90" cy="398.00" r="1.3" fill="#2b4673"/>
<circle cx="476.40" cy="398.00" r="1.3" fill="#2b4673"/>
<circle cx="480.20" cy="398.00" r="1.3" fill="#2b4673"/>
<circle cx="484.10" cy="398.00" r="1.3" fill="#2b4673"/>
<circle cx="488.30" cy="398.00" r="1.3" fill="#2b4673"/>
<circle cx="492.50" cy="398.00" r="1.3" fill="#2b4673"/>
<circle cx="497.20" cy="398.00" r="1.3" fill="#2b4673"/>
<circle cx="474.50" cy="400.80" r="1.3" fill="#2b4673"/>
<circle cx="478.30" cy="400.80" r="1.3" fill="#2b4673"/>
<circle cx="482.20" cy="400.80" r="1.3" fill="#2b4673"/>
<circle cx="486.10" cy="400.80" r="1.3" fill="#2b4673"/>
<circle cx="490.00" cy="400.80" r="1.3" fill="#2b4673"/>
<circle cx="493.70" cy="400.80" r="1.3" fill="#2b4673"/>
<circle cx="473.50" cy="402.50" r="1.3" fill="#2b4673"/>
<circle cx="477.00" cy="402.50" r="1.3" fill="#2b4673"/>
<circle cx="480.50" cy="402.50" r="1.3" fill="#2b4673"/>
<circle cx="484.00" cy="402.50" r="1.3" fill="#2b4673"/>
<circle cx="487.50" cy="402.50" r="1.3" fill="#2b4673"/>
<circle cx="491.00" cy="402.50" r="1.3" fill="#2b4673"/>
<circle cx="494.50" cy="402.50" r="1.3" fill="#2b4673"/>
<circle cx="497.50" cy="402.50" r="1.3" fill="#2b4673"/>
<circle cx="477.50" cy="404.20" r="1.3" fill="#2b4673"/>
<circle cx="481.00" cy="404.20" r="1.3" fill="#2b4673"/>
<circle cx="484.50" cy="404.20" r="1.3" fill="#2b4673"/>
<circle cx="488.00" cy="404.20" r="1.3" fill="#2b4673"/>
<circle cx="491.50" cy="404.20" r="1.3" fill="#2b4673"/>
<line x1="485.30" y1="396.30" x2="485.30" y2="403.00" stroke="#2b4673" stroke-width="1.0"/>
<line x1="478.70" y1="396.30" x2="491.80" y2="396.30" stroke="#2b4673" stroke-width="1.1"/>
<line x1="471.80" y1="399.60" x2="498.30" y2="399.60" stroke="#2b4673" stroke-width="1.2"/>
<line x1="54.50" y1="454.30" x2="54.50" y2="593.40" stroke="#1c1c1c" stroke-width="1.2"/>
<line x1="53.90" y1="592.80" x2="250.90" y2="592.80" stroke="#1c1c1c" stroke-width="1.2"/>
<line x1="50.80" y1="587.40" x2="54.50" y2="587.40" stroke="#1c1c1c" stroke-width="1.0"/>
<text x="49.60" y="589.40" font-size="5.6" text-anchor="end" style="stroke-width:0.15px">0</text>
<line x1="50.80" y1="561.88" x2="54.50" y2="561.88" stroke="#1c1c1c" stroke-width="1.0"/>
<text x="49.60" y="563.88" font-size="5.6" text-anchor="end" style="stroke-width:0.15px">20</text>
<line x1="50.80" y1="536.36" x2="54.50" y2="536.36" stroke="#1c1c1c" stroke-width="1.0"/>
<text x="49.60" y="538.36" font-size="5.6" text-anchor="end" style="stroke-width:0.15px">40</text>
<line x1="50.80" y1="510.84" x2="54.50" y2="510.84" stroke="#1c1c1c" stroke-width="1.0"/>
<text x="49.60" y="512.84" font-size="5.6" text-anchor="end" style="stroke-width:0.15px">60</text>
<line x1="50.80" y1="485.32" x2="54.50" y2="485.32" stroke="#1c1c1c" stroke-width="1.0"/>
<text x="49.60" y="487.32" font-size="5.6" text-anchor="end" style="stroke-width:0.15px">80</text>
<line x1="50.80" y1="459.80" x2="54.50" y2="459.80" stroke="#1c1c1c" stroke-width="1.0"/>
<text x="49.60" y="461.80" font-size="5.6" text-anchor="end" style="stroke-width:0.15px">100</text>
<line x1="54.60" y1="592.80" x2="54.60" y2="595.20" stroke="#1c1c1c" stroke-width="1.0"/>
<text x="54.60" y="604.00" font-size="5.6" text-anchor="middle" style="stroke-width:0.15px">0</text>
<line x1="87.21" y1="592.80" x2="87.21" y2="595.20" stroke="#1c1c1c" stroke-width="1.0"/>
<text x="87.21" y="604.00" font-size="5.6" text-anchor="middle" style="stroke-width:0.15px">3</text>
<line x1="119.82" y1="592.80" x2="119.82" y2="595.20" stroke="#1c1c1c" stroke-width="1.0"/>
<text x="119.82" y="604.00" font-size="5.6" text-anchor="middle" style="stroke-width:0.15px">6</text>
<line x1="152.43" y1="592.80" x2="152.43" y2="595.20" stroke="#1c1c1c" stroke-width="1.0"/>
<text x="152.43" y="604.00" font-size="5.6" text-anchor="middle" style="stroke-width:0.15px">9</text>
<line x1="185.04" y1="592.80" x2="185.04" y2="595.20" stroke="#1c1c1c" stroke-width="1.0"/>
<text x="185.04" y="604.00" font-size="5.6" text-anchor="middle" style="stroke-width:0.15px">12</text>
<line x1="217.65" y1="592.80" x2="217.65" y2="595.20" stroke="#1c1c1c" stroke-width="1.0"/>
<text x="217.65" y="604.00" font-size="5.6" text-anchor="middle" style="stroke-width:0.15px">15</text>
<line x1="250.26" y1="592.80" x2="250.26" y2="595.20" stroke="#1c1c1c" stroke-width="1.0"/>
<text x="250.26" y="604.00" font-size="5.6" text-anchor="middle" style="stroke-width:0.15px">18</text>
<text x="152.60" y="617.30" font-size="8.5" text-anchor="middle" textLength="92.90" lengthAdjust="spacingAndGlyphs">Months post T-cell infusion</text>
<text x="23.20" y="523.80" font-size="7.5" text-anchor="middle" textLength="94.70" lengthAdjust="spacingAndGlyphs" transform="rotate(-90 23.20 523.80)" style="stroke-width:0.12px">Persistence of CD19 aplasia</text>
<text x="31.60" y="527.40" font-size="7.5" text-anchor="middle" textLength="85.00" lengthAdjust="spacingAndGlyphs" transform="rotate(-90 31.60 527.40)" style="stroke-width:0.12px">among responders (%)</text>
<path d="M55,459.5H70M69.5,460V476M70,475.5H77M76.5,476V490M77,490.5H82M81.5,490V498M82,497.5H87M86.5,498V501M87,500.5H97M96.5,501V515M97,514.5H115M114.5,515V519M115,519.5H125M124.5,519V524M125,524.5H252" stroke="#7c2444" stroke-width="1" fill="none" stroke-dasharray="1 1"/>
<path d="M61.5,460V475M62,474.5H67M66.5,475V480M67,479.5H70M69.5,480V512M70,512.5H77M76.5,512V531M77,530.5H82M81.5,531V536M82,536.5H85M84.5,536V541M85,540.5H88M87.5,541V546M88,545.5H97M96.5,546V559M97,559.5H115M114.5,559V565M115,564.5H124M124.5,565V570M124,570.5H249" stroke="#7c2444" stroke-width="1" fill="none" stroke-dasharray="1 1"/>
<path d="M54.6,459.8 H61.8 V466.4 H65.8 V469.6 H69.8 V495.4 H76.6 V513.1 H81.5 V517.7 H83.1 V522.8 H87.7 V527.7 H96.9 V537.7 H98.5 V542.3 H115.1 V548.5 H124.3 V553.8 H251" stroke="#7c1535" stroke-width="1.9" fill="none"/>
<line x1="64.40" y1="464.60" x2="64.40" y2="468.20" stroke="#7c1535" stroke-width="1.0"/>
<line x1="75.50" y1="493.60" x2="75.50" y2="497.20" stroke="#7c1535" stroke-width="1.0"/>
<line x1="76.60" y1="504.20" x2="76.60" y2="507.80" stroke="#7c1535" stroke-width="1.0"/>
<line x1="79.70" y1="511.30" x2="79.70" y2="514.90" stroke="#7c1535" stroke-width="1.0"/>
<line x1="81.50" y1="511.30" x2="81.50" y2="514.90" stroke="#7c1535" stroke-width="1.0"/>
<line x1="83.10" y1="516.70" x2="83.10" y2="520.30" stroke="#7c1535" stroke-width="1.0"/>
<line x1="98.50" y1="538.20" x2="98.50" y2="541.80" stroke="#7c1535" stroke-width="1.0"/>
<line x1="101.50" y1="540.50" x2="101.50" y2="544.10" stroke="#7c1535" stroke-width="1.0"/>
<line x1="138.50" y1="552.00" x2="138.50" y2="555.60" stroke="#7c1535" stroke-width="1.0"/>
<line x1="163.20" y1="552.00" x2="163.20" y2="555.60" stroke="#7c1535" stroke-width="1.0"/>
<line x1="220.80" y1="552.00" x2="220.80" y2="555.60" stroke="#7c1535" stroke-width="1.0"/>
<line x1="230.00" y1="552.00" x2="230.00" y2="555.60" stroke="#7c1535" stroke-width="1.0"/>
<path d="M0.5,0.5 H518.9 V624.9 H0.5 Z" fill="none" stroke="#000" stroke-width="1"/>
<rect x="518.5" y="0" width="1.5" height="626" fill="#000"/>
<rect x="0" y="624.3" width="520" height="1.7" fill="#000"/>
<rect x="1" y="1" width="517" height="1" fill="#000" fill-opacity="0.3"/>
<rect x="1" y="1" width="1" height="623" fill="#000" fill-opacity="0.25"/>
</g>
</svg>
</body></html>
